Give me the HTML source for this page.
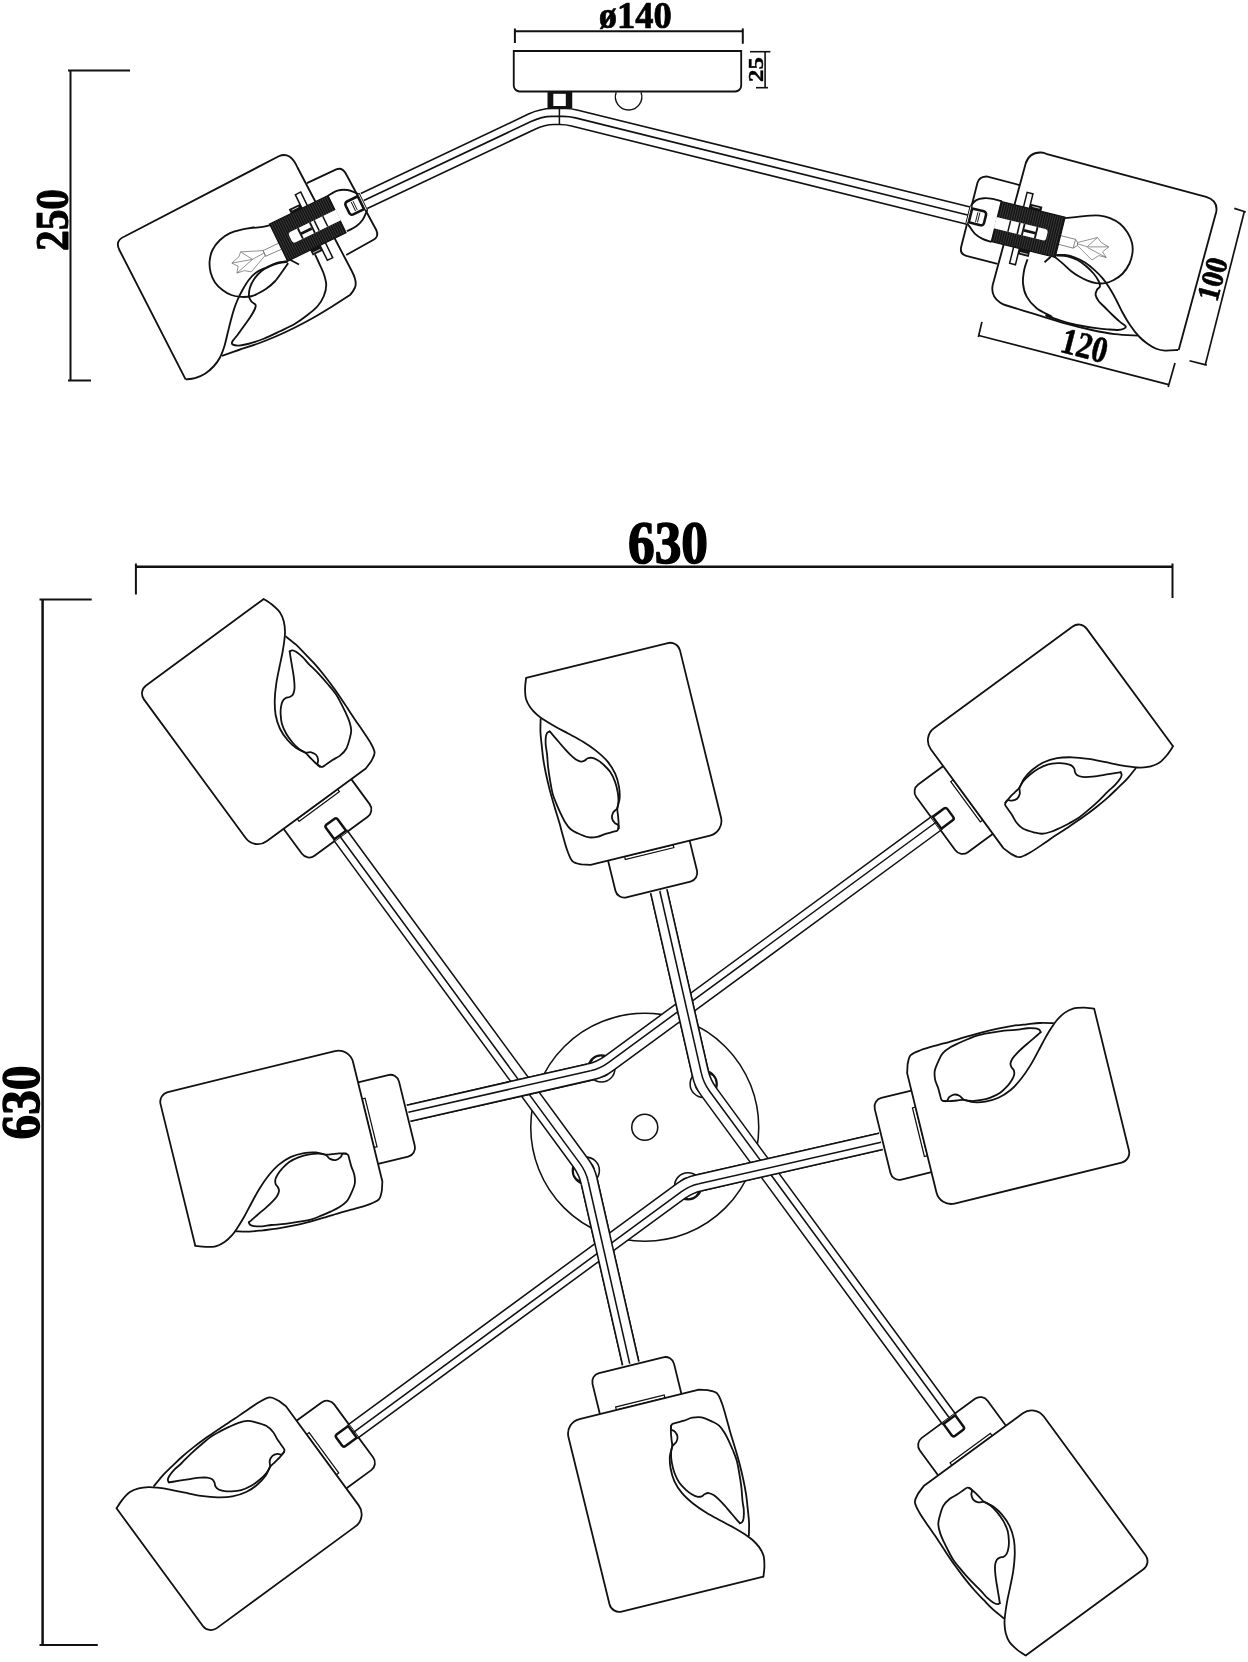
<!DOCTYPE html>
<html><head><meta charset="utf-8"><title>630</title>
<style>
html,body{margin:0;padding:0;background:#fff;overflow:hidden;}
svg{display:block;filter:grayscale(1);}
text{font-family:"Liberation Serif",serif;font-weight:bold;fill:#000;}
</style></head><body>
<svg width="1248" height="1662" viewBox="0 0 1248 1662">
<rect x="0" y="0" width="1248" height="1662" fill="#fff"/>
<circle cx="644.75" cy="1127.3" r="114" fill="none" stroke="#111" stroke-width="1.55"/>
<circle cx="644.75" cy="1127.3" r="13" fill="none" stroke="#111" stroke-width="1.55"/>
<g transform="rotate(0 644.75 1127.3)"><circle cx="585.9" cy="1170.6" r="13.5" fill="#fff" stroke="#111" stroke-width="1.55"/><circle cx="583.7" cy="1171.4" r="10.6" fill="none" stroke="#111" stroke-width="1.55"/></g>
<g transform="rotate(90 644.75 1127.3)"><circle cx="585.9" cy="1170.6" r="13.5" fill="#fff" stroke="#111" stroke-width="1.55"/><circle cx="583.7" cy="1171.4" r="10.6" fill="none" stroke="#111" stroke-width="1.55"/></g>
<g transform="rotate(180 644.75 1127.3)"><circle cx="585.9" cy="1170.6" r="13.5" fill="#fff" stroke="#111" stroke-width="1.55"/><circle cx="583.7" cy="1171.4" r="10.6" fill="none" stroke="#111" stroke-width="1.55"/></g>
<g transform="rotate(270 644.75 1127.3)"><circle cx="585.9" cy="1170.6" r="13.5" fill="#fff" stroke="#111" stroke-width="1.55"/><circle cx="583.7" cy="1171.4" r="10.6" fill="none" stroke="#111" stroke-width="1.55"/></g>
<g transform="rotate(0 644.75 1127.3)"><g transform="matrix(-0.5916 -0.8062 -0.8062 0.5916 341.1 836.25)"><path d="M41 -42L9 -42A9 9 0 0 0 0 -33L0 33A9 9 0 0 0 9 42L41 42" fill="#fff" stroke="#111" stroke-width="1.8"/>
<path d="M36.9 -25L40 -25L40 25L36.9 25Z" fill="none" stroke="#111" stroke-width="1.25"/>
<path d="M237 -78L237 68A10 10 0 0 1 227 78L55 78A15 15 0 0 1 40 63L40 -60L42.63 -68.68C43.48 -69.99 44.98 -74.81 47.7 -76.55C50.43 -78.29 54.08 -78.54 58.97 -79.12C63.86 -79.69 72.22 -79.8 77.06 -79.99C81.91 -80.17 83.29 -80.03 88.04 -80.23C92.8 -80.43 99.81 -80.93 105.58 -81.19C111.34 -81.45 117.12 -81.72 122.62 -81.79C128.13 -81.86 133.45 -81.8 138.62 -81.62C143.79 -81.45 148.82 -81.19 153.65 -80.75C158.49 -80.3 163.04 -79.59 167.62 -78.96C172.19 -78.33 176.66 -77.87 181.12 -76.96C185.57 -76.05 192.12 -74.08 194.32 -73.5Z" fill="#fff" stroke="none"/>
<path d="M237.04 -77.99C235.37 -78.58 230.44 -80.65 227.03 -81.5C223.61 -82.35 219.83 -83.2 216.54 -83.11C213.25 -83.02 210.28 -82.13 207.27 -80.95C204.26 -79.78 201.05 -77.81 198.47 -76.05C195.89 -74.28 194.39 -72.8 191.78 -70.37C189.17 -67.93 186.02 -64.84 182.81 -61.46C179.61 -58.08 176.15 -53.99 172.57 -50.07C168.99 -46.14 165.23 -41.76 161.32 -37.93C157.4 -34.11 153.24 -30.28 149.1 -27.11C144.96 -23.95 140.87 -21.07 136.49 -18.94C132.11 -16.81 127.35 -15.2 122.82 -14.33C118.29 -13.47 113.52 -13.45 109.31 -13.73C105.1 -14 100.99 -14.86 97.58 -15.97C94.18 -17.09 91.49 -19.52 88.88 -20.44C86.26 -21.36 84.22 -21.16 81.89 -21.51C79.56 -21.87 77.1 -22.13 74.9 -22.59C72.71 -23.04 69.75 -23.97 68.72 -24.25L68.72 -24.25C68.42 -24.55 67.27 -25 66.94 -26.05C66.61 -27.09 66.8 -28.53 66.73 -30.55C66.67 -32.57 66.74 -35.46 66.56 -38.18C66.38 -40.89 65.5 -43.85 65.65 -46.81C65.81 -49.77 66.05 -52.79 67.5 -55.92C68.95 -59.05 72.32 -63.08 74.35 -65.6C76.38 -68.11 77.39 -69.48 79.69 -71C81.98 -72.52 85.15 -73.73 88.13 -74.71C91.1 -75.7 94.33 -76.26 97.55 -76.91C100.77 -77.56 104.1 -78.12 107.47 -78.61C110.83 -79.09 113.98 -79.71 117.74 -79.82C121.5 -79.94 125.58 -79.6 130.04 -79.29C134.5 -78.99 139.85 -78.57 144.5 -78C149.16 -77.43 154.15 -76.38 157.98 -75.86C161.81 -75.34 164.59 -75.42 167.49 -74.9C170.39 -74.38 173.51 -73.49 175.39 -72.76C177.27 -72.03 178.09 -71.33 178.77 -70.52C179.44 -69.72 179.33 -68.35 179.44 -67.91Z" fill="#fff" stroke="none"/>
<path d="M237 -78L237 68A10 10 0 0 1 227 78L55 78A15 15 0 0 1 40 63L40 -60L42.63 -68.68C43.48 -69.99 44.98 -74.81 47.7 -76.55C50.43 -78.29 54.08 -78.54 58.97 -79.12C63.86 -79.69 72.22 -79.8 77.06 -79.99C81.91 -80.17 83.29 -80.03 88.04 -80.23C92.8 -80.43 99.81 -80.93 105.58 -81.19C111.34 -81.45 117.12 -81.72 122.62 -81.79C128.13 -81.86 133.45 -81.8 138.62 -81.62C143.79 -81.45 148.82 -81.19 153.65 -80.75C158.49 -80.3 163.04 -79.59 167.62 -78.96C172.19 -78.33 176.66 -77.87 181.12 -76.96C185.57 -76.05 192.12 -74.08 194.32 -73.5" fill="none" stroke="#111" stroke-width="1.8" stroke-linejoin="round"/>
<path d="M237.04 -77.99C235.37 -78.58 230.44 -80.65 227.03 -81.5C223.61 -82.35 219.83 -83.2 216.54 -83.11C213.25 -83.02 210.28 -82.13 207.27 -80.95C204.26 -79.78 201.05 -77.81 198.47 -76.05C195.89 -74.28 194.39 -72.8 191.78 -70.37C189.17 -67.93 186.02 -64.84 182.81 -61.46C179.61 -58.08 176.15 -53.99 172.57 -50.07C168.99 -46.14 165.23 -41.76 161.32 -37.93C157.4 -34.11 153.24 -30.28 149.1 -27.11C144.96 -23.95 140.87 -21.07 136.49 -18.94C132.11 -16.81 127.35 -15.2 122.82 -14.33C118.29 -13.47 113.52 -13.45 109.31 -13.73C105.1 -14 100.99 -14.86 97.58 -15.97C94.18 -17.09 91.49 -19.52 88.88 -20.44C86.26 -21.36 84.22 -21.16 81.89 -21.51C79.56 -21.87 77.1 -22.13 74.9 -22.59C72.71 -23.04 69.75 -23.97 68.72 -24.25" fill="none" stroke="#111" stroke-width="1.8" stroke-linejoin="round" stroke-linecap="round"/>
<path d="M68.72 -24.25C68.42 -24.55 67.27 -25 66.94 -26.05C66.61 -27.09 66.8 -28.53 66.73 -30.55C66.67 -32.57 66.74 -35.46 66.56 -38.18C66.38 -40.89 65.5 -43.85 65.65 -46.81C65.81 -49.77 66.05 -52.79 67.5 -55.92C68.95 -59.05 72.32 -63.08 74.35 -65.6C76.38 -68.11 77.39 -69.48 79.69 -71C81.98 -72.52 85.15 -73.73 88.13 -74.71C91.1 -75.7 94.33 -76.26 97.55 -76.91C100.77 -77.56 104.1 -78.12 107.47 -78.61C110.83 -79.09 113.98 -79.71 117.74 -79.82C121.5 -79.94 125.58 -79.6 130.04 -79.29C134.5 -78.99 139.85 -78.57 144.5 -78C149.16 -77.43 154.15 -76.38 157.98 -75.86C161.81 -75.34 164.59 -75.42 167.49 -74.9C170.39 -74.38 173.51 -73.49 175.39 -72.76C177.27 -72.03 178.09 -71.33 178.77 -70.52C179.44 -69.72 179.33 -68.35 179.44 -67.91" fill="none" stroke="#111" stroke-width="1.8" stroke-linejoin="round" stroke-linecap="round"/>
<path d="M179.44 -67.91C178.82 -67.58 177.78 -66.99 175.7 -65.91C173.62 -64.84 169.84 -62.94 166.93 -61.47C164.02 -59.99 160.9 -58.51 158.25 -57.08C155.59 -55.65 153.09 -54.22 151.02 -52.89C148.96 -51.56 147.25 -50.45 145.86 -49.11C144.47 -47.76 143.22 -46.17 142.7 -44.8C142.18 -43.42 142.48 -42.11 142.74 -40.86C143 -39.6 144.13 -38.62 144.26 -37.26C144.38 -35.91 144.23 -34.26 143.49 -32.73C142.75 -31.2 141.33 -29.57 139.84 -28.07C138.35 -26.56 136.89 -25.26 134.54 -23.71C132.19 -22.17 128.98 -20.02 125.74 -18.8C122.5 -17.59 118.66 -16.84 115.09 -16.42C111.52 -15.99 107.58 -16.08 104.34 -16.28C101.09 -16.48 98.18 -16.93 95.6 -17.62C93.02 -18.31 90.58 -19.11 88.88 -20.44C87.18 -21.78 86.83 -24.36 85.38 -25.63C83.94 -26.89 81.93 -27.87 80.21 -28.03C78.49 -28.19 76.45 -27.34 75.07 -26.59C73.68 -25.83 72.97 -23.88 71.91 -23.49C70.85 -23.1 69.25 -24.13 68.72 -24.25" fill="none" stroke="#111" stroke-width="1.8" stroke-linejoin="round" stroke-linecap="round"/></g></g>
<g transform="rotate(90 644.75 1127.3)"><g transform="matrix(-0.5916 -0.8062 -0.8062 0.5916 341.1 836.25)"><path d="M41 -42L9 -42A9 9 0 0 0 0 -33L0 33A9 9 0 0 0 9 42L41 42" fill="#fff" stroke="#111" stroke-width="1.8"/>
<path d="M36.9 -25L40 -25L40 25L36.9 25Z" fill="none" stroke="#111" stroke-width="1.25"/>
<path d="M237 -78L237 68A10 10 0 0 1 227 78L55 78A15 15 0 0 1 40 63L40 -60L42.63 -68.68C43.48 -69.99 44.98 -74.81 47.7 -76.55C50.43 -78.29 54.08 -78.54 58.97 -79.12C63.86 -79.69 72.22 -79.8 77.06 -79.99C81.91 -80.17 83.29 -80.03 88.04 -80.23C92.8 -80.43 99.81 -80.93 105.58 -81.19C111.34 -81.45 117.12 -81.72 122.62 -81.79C128.13 -81.86 133.45 -81.8 138.62 -81.62C143.79 -81.45 148.82 -81.19 153.65 -80.75C158.49 -80.3 163.04 -79.59 167.62 -78.96C172.19 -78.33 176.66 -77.87 181.12 -76.96C185.57 -76.05 192.12 -74.08 194.32 -73.5Z" fill="#fff" stroke="none"/>
<path d="M237.04 -77.99C235.37 -78.58 230.44 -80.65 227.03 -81.5C223.61 -82.35 219.83 -83.2 216.54 -83.11C213.25 -83.02 210.28 -82.13 207.27 -80.95C204.26 -79.78 201.05 -77.81 198.47 -76.05C195.89 -74.28 194.39 -72.8 191.78 -70.37C189.17 -67.93 186.02 -64.84 182.81 -61.46C179.61 -58.08 176.15 -53.99 172.57 -50.07C168.99 -46.14 165.23 -41.76 161.32 -37.93C157.4 -34.11 153.24 -30.28 149.1 -27.11C144.96 -23.95 140.87 -21.07 136.49 -18.94C132.11 -16.81 127.35 -15.2 122.82 -14.33C118.29 -13.47 113.52 -13.45 109.31 -13.73C105.1 -14 100.99 -14.86 97.58 -15.97C94.18 -17.09 91.49 -19.52 88.88 -20.44C86.26 -21.36 84.22 -21.16 81.89 -21.51C79.56 -21.87 77.1 -22.13 74.9 -22.59C72.71 -23.04 69.75 -23.97 68.72 -24.25L68.72 -24.25C68.42 -24.55 67.27 -25 66.94 -26.05C66.61 -27.09 66.8 -28.53 66.73 -30.55C66.67 -32.57 66.74 -35.46 66.56 -38.18C66.38 -40.89 65.5 -43.85 65.65 -46.81C65.81 -49.77 66.05 -52.79 67.5 -55.92C68.95 -59.05 72.32 -63.08 74.35 -65.6C76.38 -68.11 77.39 -69.48 79.69 -71C81.98 -72.52 85.15 -73.73 88.13 -74.71C91.1 -75.7 94.33 -76.26 97.55 -76.91C100.77 -77.56 104.1 -78.12 107.47 -78.61C110.83 -79.09 113.98 -79.71 117.74 -79.82C121.5 -79.94 125.58 -79.6 130.04 -79.29C134.5 -78.99 139.85 -78.57 144.5 -78C149.16 -77.43 154.15 -76.38 157.98 -75.86C161.81 -75.34 164.59 -75.42 167.49 -74.9C170.39 -74.38 173.51 -73.49 175.39 -72.76C177.27 -72.03 178.09 -71.33 178.77 -70.52C179.44 -69.72 179.33 -68.35 179.44 -67.91Z" fill="#fff" stroke="none"/>
<path d="M237 -78L237 68A10 10 0 0 1 227 78L55 78A15 15 0 0 1 40 63L40 -60L42.63 -68.68C43.48 -69.99 44.98 -74.81 47.7 -76.55C50.43 -78.29 54.08 -78.54 58.97 -79.12C63.86 -79.69 72.22 -79.8 77.06 -79.99C81.91 -80.17 83.29 -80.03 88.04 -80.23C92.8 -80.43 99.81 -80.93 105.58 -81.19C111.34 -81.45 117.12 -81.72 122.62 -81.79C128.13 -81.86 133.45 -81.8 138.62 -81.62C143.79 -81.45 148.82 -81.19 153.65 -80.75C158.49 -80.3 163.04 -79.59 167.62 -78.96C172.19 -78.33 176.66 -77.87 181.12 -76.96C185.57 -76.05 192.12 -74.08 194.32 -73.5" fill="none" stroke="#111" stroke-width="1.8" stroke-linejoin="round"/>
<path d="M237.04 -77.99C235.37 -78.58 230.44 -80.65 227.03 -81.5C223.61 -82.35 219.83 -83.2 216.54 -83.11C213.25 -83.02 210.28 -82.13 207.27 -80.95C204.26 -79.78 201.05 -77.81 198.47 -76.05C195.89 -74.28 194.39 -72.8 191.78 -70.37C189.17 -67.93 186.02 -64.84 182.81 -61.46C179.61 -58.08 176.15 -53.99 172.57 -50.07C168.99 -46.14 165.23 -41.76 161.32 -37.93C157.4 -34.11 153.24 -30.28 149.1 -27.11C144.96 -23.95 140.87 -21.07 136.49 -18.94C132.11 -16.81 127.35 -15.2 122.82 -14.33C118.29 -13.47 113.52 -13.45 109.31 -13.73C105.1 -14 100.99 -14.86 97.58 -15.97C94.18 -17.09 91.49 -19.52 88.88 -20.44C86.26 -21.36 84.22 -21.16 81.89 -21.51C79.56 -21.87 77.1 -22.13 74.9 -22.59C72.71 -23.04 69.75 -23.97 68.72 -24.25" fill="none" stroke="#111" stroke-width="1.8" stroke-linejoin="round" stroke-linecap="round"/>
<path d="M68.72 -24.25C68.42 -24.55 67.27 -25 66.94 -26.05C66.61 -27.09 66.8 -28.53 66.73 -30.55C66.67 -32.57 66.74 -35.46 66.56 -38.18C66.38 -40.89 65.5 -43.85 65.65 -46.81C65.81 -49.77 66.05 -52.79 67.5 -55.92C68.95 -59.05 72.32 -63.08 74.35 -65.6C76.38 -68.11 77.39 -69.48 79.69 -71C81.98 -72.52 85.15 -73.73 88.13 -74.71C91.1 -75.7 94.33 -76.26 97.55 -76.91C100.77 -77.56 104.1 -78.12 107.47 -78.61C110.83 -79.09 113.98 -79.71 117.74 -79.82C121.5 -79.94 125.58 -79.6 130.04 -79.29C134.5 -78.99 139.85 -78.57 144.5 -78C149.16 -77.43 154.15 -76.38 157.98 -75.86C161.81 -75.34 164.59 -75.42 167.49 -74.9C170.39 -74.38 173.51 -73.49 175.39 -72.76C177.27 -72.03 178.09 -71.33 178.77 -70.52C179.44 -69.72 179.33 -68.35 179.44 -67.91" fill="none" stroke="#111" stroke-width="1.8" stroke-linejoin="round" stroke-linecap="round"/>
<path d="M179.44 -67.91C178.82 -67.58 177.78 -66.99 175.7 -65.91C173.62 -64.84 169.84 -62.94 166.93 -61.47C164.02 -59.99 160.9 -58.51 158.25 -57.08C155.59 -55.65 153.09 -54.22 151.02 -52.89C148.96 -51.56 147.25 -50.45 145.86 -49.11C144.47 -47.76 143.22 -46.17 142.7 -44.8C142.18 -43.42 142.48 -42.11 142.74 -40.86C143 -39.6 144.13 -38.62 144.26 -37.26C144.38 -35.91 144.23 -34.26 143.49 -32.73C142.75 -31.2 141.33 -29.57 139.84 -28.07C138.35 -26.56 136.89 -25.26 134.54 -23.71C132.19 -22.17 128.98 -20.02 125.74 -18.8C122.5 -17.59 118.66 -16.84 115.09 -16.42C111.52 -15.99 107.58 -16.08 104.34 -16.28C101.09 -16.48 98.18 -16.93 95.6 -17.62C93.02 -18.31 90.58 -19.11 88.88 -20.44C87.18 -21.78 86.83 -24.36 85.38 -25.63C83.94 -26.89 81.93 -27.87 80.21 -28.03C78.49 -28.19 76.45 -27.34 75.07 -26.59C73.68 -25.83 72.97 -23.88 71.91 -23.49C70.85 -23.1 69.25 -24.13 68.72 -24.25" fill="none" stroke="#111" stroke-width="1.8" stroke-linejoin="round" stroke-linecap="round"/></g></g>
<g transform="rotate(180 644.75 1127.3)"><g transform="matrix(-0.5916 -0.8062 -0.8062 0.5916 341.1 836.25)"><path d="M41 -42L9 -42A9 9 0 0 0 0 -33L0 33A9 9 0 0 0 9 42L41 42" fill="#fff" stroke="#111" stroke-width="1.8"/>
<path d="M36.9 -25L40 -25L40 25L36.9 25Z" fill="none" stroke="#111" stroke-width="1.25"/>
<path d="M237 -78L237 68A10 10 0 0 1 227 78L55 78A15 15 0 0 1 40 63L40 -60L42.63 -68.68C43.48 -69.99 44.98 -74.81 47.7 -76.55C50.43 -78.29 54.08 -78.54 58.97 -79.12C63.86 -79.69 72.22 -79.8 77.06 -79.99C81.91 -80.17 83.29 -80.03 88.04 -80.23C92.8 -80.43 99.81 -80.93 105.58 -81.19C111.34 -81.45 117.12 -81.72 122.62 -81.79C128.13 -81.86 133.45 -81.8 138.62 -81.62C143.79 -81.45 148.82 -81.19 153.65 -80.75C158.49 -80.3 163.04 -79.59 167.62 -78.96C172.19 -78.33 176.66 -77.87 181.12 -76.96C185.57 -76.05 192.12 -74.08 194.32 -73.5Z" fill="#fff" stroke="none"/>
<path d="M237.04 -77.99C235.37 -78.58 230.44 -80.65 227.03 -81.5C223.61 -82.35 219.83 -83.2 216.54 -83.11C213.25 -83.02 210.28 -82.13 207.27 -80.95C204.26 -79.78 201.05 -77.81 198.47 -76.05C195.89 -74.28 194.39 -72.8 191.78 -70.37C189.17 -67.93 186.02 -64.84 182.81 -61.46C179.61 -58.08 176.15 -53.99 172.57 -50.07C168.99 -46.14 165.23 -41.76 161.32 -37.93C157.4 -34.11 153.24 -30.28 149.1 -27.11C144.96 -23.95 140.87 -21.07 136.49 -18.94C132.11 -16.81 127.35 -15.2 122.82 -14.33C118.29 -13.47 113.52 -13.45 109.31 -13.73C105.1 -14 100.99 -14.86 97.58 -15.97C94.18 -17.09 91.49 -19.52 88.88 -20.44C86.26 -21.36 84.22 -21.16 81.89 -21.51C79.56 -21.87 77.1 -22.13 74.9 -22.59C72.71 -23.04 69.75 -23.97 68.72 -24.25L68.72 -24.25C68.42 -24.55 67.27 -25 66.94 -26.05C66.61 -27.09 66.8 -28.53 66.73 -30.55C66.67 -32.57 66.74 -35.46 66.56 -38.18C66.38 -40.89 65.5 -43.85 65.65 -46.81C65.81 -49.77 66.05 -52.79 67.5 -55.92C68.95 -59.05 72.32 -63.08 74.35 -65.6C76.38 -68.11 77.39 -69.48 79.69 -71C81.98 -72.52 85.15 -73.73 88.13 -74.71C91.1 -75.7 94.33 -76.26 97.55 -76.91C100.77 -77.56 104.1 -78.12 107.47 -78.61C110.83 -79.09 113.98 -79.71 117.74 -79.82C121.5 -79.94 125.58 -79.6 130.04 -79.29C134.5 -78.99 139.85 -78.57 144.5 -78C149.16 -77.43 154.15 -76.38 157.98 -75.86C161.81 -75.34 164.59 -75.42 167.49 -74.9C170.39 -74.38 173.51 -73.49 175.39 -72.76C177.27 -72.03 178.09 -71.33 178.77 -70.52C179.44 -69.72 179.33 -68.35 179.44 -67.91Z" fill="#fff" stroke="none"/>
<path d="M237 -78L237 68A10 10 0 0 1 227 78L55 78A15 15 0 0 1 40 63L40 -60L42.63 -68.68C43.48 -69.99 44.98 -74.81 47.7 -76.55C50.43 -78.29 54.08 -78.54 58.97 -79.12C63.86 -79.69 72.22 -79.8 77.06 -79.99C81.91 -80.17 83.29 -80.03 88.04 -80.23C92.8 -80.43 99.81 -80.93 105.58 -81.19C111.34 -81.45 117.12 -81.72 122.62 -81.79C128.13 -81.86 133.45 -81.8 138.62 -81.62C143.79 -81.45 148.82 -81.19 153.65 -80.75C158.49 -80.3 163.04 -79.59 167.62 -78.96C172.19 -78.33 176.66 -77.87 181.12 -76.96C185.57 -76.05 192.12 -74.08 194.32 -73.5" fill="none" stroke="#111" stroke-width="1.8" stroke-linejoin="round"/>
<path d="M237.04 -77.99C235.37 -78.58 230.44 -80.65 227.03 -81.5C223.61 -82.35 219.83 -83.2 216.54 -83.11C213.25 -83.02 210.28 -82.13 207.27 -80.95C204.26 -79.78 201.05 -77.81 198.47 -76.05C195.89 -74.28 194.39 -72.8 191.78 -70.37C189.17 -67.93 186.02 -64.84 182.81 -61.46C179.61 -58.08 176.15 -53.99 172.57 -50.07C168.99 -46.14 165.23 -41.76 161.32 -37.93C157.4 -34.11 153.24 -30.28 149.1 -27.11C144.96 -23.95 140.87 -21.07 136.49 -18.94C132.11 -16.81 127.35 -15.2 122.82 -14.33C118.29 -13.47 113.52 -13.45 109.31 -13.73C105.1 -14 100.99 -14.86 97.58 -15.97C94.18 -17.09 91.49 -19.52 88.88 -20.44C86.26 -21.36 84.22 -21.16 81.89 -21.51C79.56 -21.87 77.1 -22.13 74.9 -22.59C72.71 -23.04 69.75 -23.97 68.72 -24.25" fill="none" stroke="#111" stroke-width="1.8" stroke-linejoin="round" stroke-linecap="round"/>
<path d="M68.72 -24.25C68.42 -24.55 67.27 -25 66.94 -26.05C66.61 -27.09 66.8 -28.53 66.73 -30.55C66.67 -32.57 66.74 -35.46 66.56 -38.18C66.38 -40.89 65.5 -43.85 65.65 -46.81C65.81 -49.77 66.05 -52.79 67.5 -55.92C68.95 -59.05 72.32 -63.08 74.35 -65.6C76.38 -68.11 77.39 -69.48 79.69 -71C81.98 -72.52 85.15 -73.73 88.13 -74.71C91.1 -75.7 94.33 -76.26 97.55 -76.91C100.77 -77.56 104.1 -78.12 107.47 -78.61C110.83 -79.09 113.98 -79.71 117.74 -79.82C121.5 -79.94 125.58 -79.6 130.04 -79.29C134.5 -78.99 139.85 -78.57 144.5 -78C149.16 -77.43 154.15 -76.38 157.98 -75.86C161.81 -75.34 164.59 -75.42 167.49 -74.9C170.39 -74.38 173.51 -73.49 175.39 -72.76C177.27 -72.03 178.09 -71.33 178.77 -70.52C179.44 -69.72 179.33 -68.35 179.44 -67.91" fill="none" stroke="#111" stroke-width="1.8" stroke-linejoin="round" stroke-linecap="round"/>
<path d="M179.44 -67.91C178.82 -67.58 177.78 -66.99 175.7 -65.91C173.62 -64.84 169.84 -62.94 166.93 -61.47C164.02 -59.99 160.9 -58.51 158.25 -57.08C155.59 -55.65 153.09 -54.22 151.02 -52.89C148.96 -51.56 147.25 -50.45 145.86 -49.11C144.47 -47.76 143.22 -46.17 142.7 -44.8C142.18 -43.42 142.48 -42.11 142.74 -40.86C143 -39.6 144.13 -38.62 144.26 -37.26C144.38 -35.91 144.23 -34.26 143.49 -32.73C142.75 -31.2 141.33 -29.57 139.84 -28.07C138.35 -26.56 136.89 -25.26 134.54 -23.71C132.19 -22.17 128.98 -20.02 125.74 -18.8C122.5 -17.59 118.66 -16.84 115.09 -16.42C111.52 -15.99 107.58 -16.08 104.34 -16.28C101.09 -16.48 98.18 -16.93 95.6 -17.62C93.02 -18.31 90.58 -19.11 88.88 -20.44C87.18 -21.78 86.83 -24.36 85.38 -25.63C83.94 -26.89 81.93 -27.87 80.21 -28.03C78.49 -28.19 76.45 -27.34 75.07 -26.59C73.68 -25.83 72.97 -23.88 71.91 -23.49C70.85 -23.1 69.25 -24.13 68.72 -24.25" fill="none" stroke="#111" stroke-width="1.8" stroke-linejoin="round" stroke-linecap="round"/></g></g>
<g transform="rotate(270 644.75 1127.3)"><g transform="matrix(-0.5916 -0.8062 -0.8062 0.5916 341.1 836.25)"><path d="M41 -42L9 -42A9 9 0 0 0 0 -33L0 33A9 9 0 0 0 9 42L41 42" fill="#fff" stroke="#111" stroke-width="1.8"/>
<path d="M36.9 -25L40 -25L40 25L36.9 25Z" fill="none" stroke="#111" stroke-width="1.25"/>
<path d="M237 -78L237 68A10 10 0 0 1 227 78L55 78A15 15 0 0 1 40 63L40 -60L42.63 -68.68C43.48 -69.99 44.98 -74.81 47.7 -76.55C50.43 -78.29 54.08 -78.54 58.97 -79.12C63.86 -79.69 72.22 -79.8 77.06 -79.99C81.91 -80.17 83.29 -80.03 88.04 -80.23C92.8 -80.43 99.81 -80.93 105.58 -81.19C111.34 -81.45 117.12 -81.72 122.62 -81.79C128.13 -81.86 133.45 -81.8 138.62 -81.62C143.79 -81.45 148.82 -81.19 153.65 -80.75C158.49 -80.3 163.04 -79.59 167.62 -78.96C172.19 -78.33 176.66 -77.87 181.12 -76.96C185.57 -76.05 192.12 -74.08 194.32 -73.5Z" fill="#fff" stroke="none"/>
<path d="M237.04 -77.99C235.37 -78.58 230.44 -80.65 227.03 -81.5C223.61 -82.35 219.83 -83.2 216.54 -83.11C213.25 -83.02 210.28 -82.13 207.27 -80.95C204.26 -79.78 201.05 -77.81 198.47 -76.05C195.89 -74.28 194.39 -72.8 191.78 -70.37C189.17 -67.93 186.02 -64.84 182.81 -61.46C179.61 -58.08 176.15 -53.99 172.57 -50.07C168.99 -46.14 165.23 -41.76 161.32 -37.93C157.4 -34.11 153.24 -30.28 149.1 -27.11C144.96 -23.95 140.87 -21.07 136.49 -18.94C132.11 -16.81 127.35 -15.2 122.82 -14.33C118.29 -13.47 113.52 -13.45 109.31 -13.73C105.1 -14 100.99 -14.86 97.58 -15.97C94.18 -17.09 91.49 -19.52 88.88 -20.44C86.26 -21.36 84.22 -21.16 81.89 -21.51C79.56 -21.87 77.1 -22.13 74.9 -22.59C72.71 -23.04 69.75 -23.97 68.72 -24.25L68.72 -24.25C68.42 -24.55 67.27 -25 66.94 -26.05C66.61 -27.09 66.8 -28.53 66.73 -30.55C66.67 -32.57 66.74 -35.46 66.56 -38.18C66.38 -40.89 65.5 -43.85 65.65 -46.81C65.81 -49.77 66.05 -52.79 67.5 -55.92C68.95 -59.05 72.32 -63.08 74.35 -65.6C76.38 -68.11 77.39 -69.48 79.69 -71C81.98 -72.52 85.15 -73.73 88.13 -74.71C91.1 -75.7 94.33 -76.26 97.55 -76.91C100.77 -77.56 104.1 -78.12 107.47 -78.61C110.83 -79.09 113.98 -79.71 117.74 -79.82C121.5 -79.94 125.58 -79.6 130.04 -79.29C134.5 -78.99 139.85 -78.57 144.5 -78C149.16 -77.43 154.15 -76.38 157.98 -75.86C161.81 -75.34 164.59 -75.42 167.49 -74.9C170.39 -74.38 173.51 -73.49 175.39 -72.76C177.27 -72.03 178.09 -71.33 178.77 -70.52C179.44 -69.72 179.33 -68.35 179.44 -67.91Z" fill="#fff" stroke="none"/>
<path d="M237 -78L237 68A10 10 0 0 1 227 78L55 78A15 15 0 0 1 40 63L40 -60L42.63 -68.68C43.48 -69.99 44.98 -74.81 47.7 -76.55C50.43 -78.29 54.08 -78.54 58.97 -79.12C63.86 -79.69 72.22 -79.8 77.06 -79.99C81.91 -80.17 83.29 -80.03 88.04 -80.23C92.8 -80.43 99.81 -80.93 105.58 -81.19C111.34 -81.45 117.12 -81.72 122.62 -81.79C128.13 -81.86 133.45 -81.8 138.62 -81.62C143.79 -81.45 148.82 -81.19 153.65 -80.75C158.49 -80.3 163.04 -79.59 167.62 -78.96C172.19 -78.33 176.66 -77.87 181.12 -76.96C185.57 -76.05 192.12 -74.08 194.32 -73.5" fill="none" stroke="#111" stroke-width="1.8" stroke-linejoin="round"/>
<path d="M237.04 -77.99C235.37 -78.58 230.44 -80.65 227.03 -81.5C223.61 -82.35 219.83 -83.2 216.54 -83.11C213.25 -83.02 210.28 -82.13 207.27 -80.95C204.26 -79.78 201.05 -77.81 198.47 -76.05C195.89 -74.28 194.39 -72.8 191.78 -70.37C189.17 -67.93 186.02 -64.84 182.81 -61.46C179.61 -58.08 176.15 -53.99 172.57 -50.07C168.99 -46.14 165.23 -41.76 161.32 -37.93C157.4 -34.11 153.24 -30.28 149.1 -27.11C144.96 -23.95 140.87 -21.07 136.49 -18.94C132.11 -16.81 127.35 -15.2 122.82 -14.33C118.29 -13.47 113.52 -13.45 109.31 -13.73C105.1 -14 100.99 -14.86 97.58 -15.97C94.18 -17.09 91.49 -19.52 88.88 -20.44C86.26 -21.36 84.22 -21.16 81.89 -21.51C79.56 -21.87 77.1 -22.13 74.9 -22.59C72.71 -23.04 69.75 -23.97 68.72 -24.25" fill="none" stroke="#111" stroke-width="1.8" stroke-linejoin="round" stroke-linecap="round"/>
<path d="M68.72 -24.25C68.42 -24.55 67.27 -25 66.94 -26.05C66.61 -27.09 66.8 -28.53 66.73 -30.55C66.67 -32.57 66.74 -35.46 66.56 -38.18C66.38 -40.89 65.5 -43.85 65.65 -46.81C65.81 -49.77 66.05 -52.79 67.5 -55.92C68.95 -59.05 72.32 -63.08 74.35 -65.6C76.38 -68.11 77.39 -69.48 79.69 -71C81.98 -72.52 85.15 -73.73 88.13 -74.71C91.1 -75.7 94.33 -76.26 97.55 -76.91C100.77 -77.56 104.1 -78.12 107.47 -78.61C110.83 -79.09 113.98 -79.71 117.74 -79.82C121.5 -79.94 125.58 -79.6 130.04 -79.29C134.5 -78.99 139.85 -78.57 144.5 -78C149.16 -77.43 154.15 -76.38 157.98 -75.86C161.81 -75.34 164.59 -75.42 167.49 -74.9C170.39 -74.38 173.51 -73.49 175.39 -72.76C177.27 -72.03 178.09 -71.33 178.77 -70.52C179.44 -69.72 179.33 -68.35 179.44 -67.91" fill="none" stroke="#111" stroke-width="1.8" stroke-linejoin="round" stroke-linecap="round"/>
<path d="M179.44 -67.91C178.82 -67.58 177.78 -66.99 175.7 -65.91C173.62 -64.84 169.84 -62.94 166.93 -61.47C164.02 -59.99 160.9 -58.51 158.25 -57.08C155.59 -55.65 153.09 -54.22 151.02 -52.89C148.96 -51.56 147.25 -50.45 145.86 -49.11C144.47 -47.76 143.22 -46.17 142.7 -44.8C142.18 -43.42 142.48 -42.11 142.74 -40.86C143 -39.6 144.13 -38.62 144.26 -37.26C144.38 -35.91 144.23 -34.26 143.49 -32.73C142.75 -31.2 141.33 -29.57 139.84 -28.07C138.35 -26.56 136.89 -25.26 134.54 -23.71C132.19 -22.17 128.98 -20.02 125.74 -18.8C122.5 -17.59 118.66 -16.84 115.09 -16.42C111.52 -15.99 107.58 -16.08 104.34 -16.28C101.09 -16.48 98.18 -16.93 95.6 -17.62C93.02 -18.31 90.58 -19.11 88.88 -20.44C87.18 -21.78 86.83 -24.36 85.38 -25.63C83.94 -26.89 81.93 -27.87 80.21 -28.03C78.49 -28.19 76.45 -27.34 75.07 -26.59C73.68 -25.83 72.97 -23.88 71.91 -23.49C70.85 -23.1 69.25 -24.13 68.72 -24.25" fill="none" stroke="#111" stroke-width="1.8" stroke-linejoin="round" stroke-linecap="round"/></g></g>
<g transform="rotate(0 644.75 1127.3)"><path d="M333.82 840.35L573.27 1166.76Q579.19 1174.82 581.41 1184.57L582.08 1187.5L597.5 1180.45L596.83 1177.53Q594.61 1167.78 588.69 1159.72L347.2 830.53Z" fill="#fff"/><path d="M333.82 840.35L573.27 1166.76Q579.19 1174.82 581.41 1184.57L622.59 1365.22" fill="none" stroke="#111" stroke-width="1.55"/><path d="M339.7 836.04L580.06 1163.66Q585.97 1171.72 588.19 1181.47L629.7 1363.6" fill="none" stroke="#111" stroke-width="1.55"/><path d="M347.2 830.53L588.69 1159.72Q594.61 1167.78 596.83 1177.53L638.77 1361.53" fill="none" stroke="#111" stroke-width="1.55"/></g>
<g transform="rotate(90 644.75 1127.3)"><path d="M333.82 840.35L573.27 1166.76Q579.19 1174.82 581.41 1184.57L582.08 1187.5L597.5 1180.45L596.83 1177.53Q594.61 1167.78 588.69 1159.72L347.2 830.53Z" fill="#fff"/><path d="M333.82 840.35L573.27 1166.76Q579.19 1174.82 581.41 1184.57L622.59 1365.22" fill="none" stroke="#111" stroke-width="1.55"/><path d="M339.7 836.04L580.06 1163.66Q585.97 1171.72 588.19 1181.47L629.7 1363.6" fill="none" stroke="#111" stroke-width="1.55"/><path d="M347.2 830.53L588.69 1159.72Q594.61 1167.78 596.83 1177.53L638.77 1361.53" fill="none" stroke="#111" stroke-width="1.55"/></g>
<g transform="rotate(180 644.75 1127.3)"><path d="M333.82 840.35L573.27 1166.76Q579.19 1174.82 581.41 1184.57L582.08 1187.5L597.5 1180.45L596.83 1177.53Q594.61 1167.78 588.69 1159.72L347.2 830.53Z" fill="#fff"/><path d="M333.82 840.35L573.27 1166.76Q579.19 1174.82 581.41 1184.57L622.59 1365.22" fill="none" stroke="#111" stroke-width="1.55"/><path d="M339.7 836.04L580.06 1163.66Q585.97 1171.72 588.19 1181.47L629.7 1363.6" fill="none" stroke="#111" stroke-width="1.55"/><path d="M347.2 830.53L588.69 1159.72Q594.61 1167.78 596.83 1177.53L638.77 1361.53" fill="none" stroke="#111" stroke-width="1.55"/></g>
<g transform="rotate(270 644.75 1127.3)"><path d="M333.82 840.35L573.27 1166.76Q579.19 1174.82 581.41 1184.57L582.08 1187.5L597.5 1180.45L596.83 1177.53Q594.61 1167.78 588.69 1159.72L347.2 830.53Z" fill="#fff"/><path d="M333.82 840.35L573.27 1166.76Q579.19 1174.82 581.41 1184.57L622.59 1365.22" fill="none" stroke="#111" stroke-width="1.55"/><path d="M339.7 836.04L580.06 1163.66Q585.97 1171.72 588.19 1181.47L629.7 1363.6" fill="none" stroke="#111" stroke-width="1.55"/><path d="M347.2 830.53L588.69 1159.72Q594.61 1167.78 596.83 1177.53L638.77 1361.53" fill="none" stroke="#111" stroke-width="1.55"/></g>
<g transform="rotate(0 644.75 1127.3)"><path d="M581.41 1184.57L622.59 1365.22L638.77 1361.53L596.83 1177.53Z" fill="#fff"/><path d="M581.41 1184.57L622.59 1365.22" fill="none" stroke="#111" stroke-width="1.55"/><path d="M588.19 1181.47L629.7 1363.6" fill="none" stroke="#111" stroke-width="1.55"/><path d="M596.83 1177.53L638.77 1361.53" fill="none" stroke="#111" stroke-width="1.55"/></g>
<g transform="rotate(90 644.75 1127.3)"><path d="M581.41 1184.57L622.59 1365.22L638.77 1361.53L596.83 1177.53Z" fill="#fff"/><path d="M581.41 1184.57L622.59 1365.22" fill="none" stroke="#111" stroke-width="1.55"/><path d="M588.19 1181.47L629.7 1363.6" fill="none" stroke="#111" stroke-width="1.55"/><path d="M596.83 1177.53L638.77 1361.53" fill="none" stroke="#111" stroke-width="1.55"/></g>
<g transform="rotate(180 644.75 1127.3)"><path d="M581.41 1184.57L622.59 1365.22L638.77 1361.53L596.83 1177.53Z" fill="#fff"/><path d="M581.41 1184.57L622.59 1365.22" fill="none" stroke="#111" stroke-width="1.55"/><path d="M588.19 1181.47L629.7 1363.6" fill="none" stroke="#111" stroke-width="1.55"/><path d="M596.83 1177.53L638.77 1361.53" fill="none" stroke="#111" stroke-width="1.55"/></g>
<g transform="rotate(270 644.75 1127.3)"><path d="M581.41 1184.57L622.59 1365.22L638.77 1361.53L596.83 1177.53Z" fill="#fff"/><path d="M581.41 1184.57L622.59 1365.22" fill="none" stroke="#111" stroke-width="1.55"/><path d="M588.19 1181.47L629.7 1363.6" fill="none" stroke="#111" stroke-width="1.55"/><path d="M596.83 1177.53L638.77 1361.53" fill="none" stroke="#111" stroke-width="1.55"/></g>
<g transform="rotate(0 644.75 1127.3)"><g transform="matrix(-0.5916 -0.8062 -0.8062 0.5916 341.1 836.25)"><path d="M1.5 -7.3L15.5 -7.3A2.5 2.5 0 0 1 18 -4.8L18 4.8A2.5 2.5 0 0 1 15.5 7.3L1.5 7.3L1.5 -7.3Z" fill="#fff" stroke="#111" stroke-width="2.5" stroke-linejoin="round"/>
<path d="M1.6 -8.8L1.6 8.8M-0.4 -8.8L-0.4 8.8" fill="none" stroke="#111" stroke-width="0.9"/></g></g>
<g transform="rotate(90 644.75 1127.3)"><g transform="matrix(-0.5916 -0.8062 -0.8062 0.5916 341.1 836.25)"><path d="M1.5 -7.3L15.5 -7.3A2.5 2.5 0 0 1 18 -4.8L18 4.8A2.5 2.5 0 0 1 15.5 7.3L1.5 7.3L1.5 -7.3Z" fill="#fff" stroke="#111" stroke-width="2.5" stroke-linejoin="round"/>
<path d="M1.6 -8.8L1.6 8.8M-0.4 -8.8L-0.4 8.8" fill="none" stroke="#111" stroke-width="0.9"/></g></g>
<g transform="rotate(180 644.75 1127.3)"><g transform="matrix(-0.5916 -0.8062 -0.8062 0.5916 341.1 836.25)"><path d="M1.5 -7.3L15.5 -7.3A2.5 2.5 0 0 1 18 -4.8L18 4.8A2.5 2.5 0 0 1 15.5 7.3L1.5 7.3L1.5 -7.3Z" fill="#fff" stroke="#111" stroke-width="2.5" stroke-linejoin="round"/>
<path d="M1.6 -8.8L1.6 8.8M-0.4 -8.8L-0.4 8.8" fill="none" stroke="#111" stroke-width="0.9"/></g></g>
<g transform="rotate(270 644.75 1127.3)"><g transform="matrix(-0.5916 -0.8062 -0.8062 0.5916 341.1 836.25)"><path d="M1.5 -7.3L15.5 -7.3A2.5 2.5 0 0 1 18 -4.8L18 4.8A2.5 2.5 0 0 1 15.5 7.3L1.5 7.3L1.5 -7.3Z" fill="#fff" stroke="#111" stroke-width="2.5" stroke-linejoin="round"/>
<path d="M1.6 -8.8L1.6 8.8M-0.4 -8.8L-0.4 8.8" fill="none" stroke="#111" stroke-width="0.9"/></g></g>
<g transform="rotate(0 644.75 1127.3)"><g transform="matrix(0.2385 0.9711 -0.9711 0.2385 631.12 1365.15)"><path d="M41 -42L9 -42A9 9 0 0 0 0 -33L0 33A9 9 0 0 0 9 42L41 42" fill="#fff" stroke="#111" stroke-width="1.8"/>
<path d="M36.9 -25L40 -25L40 25L36.9 25Z" fill="none" stroke="#111" stroke-width="1.25"/>
<path d="M237 -78L237 68A10 10 0 0 1 227 78L55 78A15 15 0 0 1 40 63L40 -60L42.63 -68.68C43.48 -69.99 44.98 -74.81 47.7 -76.55C50.43 -78.29 54.08 -78.54 58.97 -79.12C63.86 -79.69 72.22 -79.8 77.06 -79.99C81.91 -80.17 83.29 -80.03 88.04 -80.23C92.8 -80.43 99.81 -80.93 105.58 -81.19C111.34 -81.45 117.12 -81.72 122.62 -81.79C128.13 -81.86 133.45 -81.8 138.62 -81.62C143.79 -81.45 148.82 -81.19 153.65 -80.75C158.49 -80.3 163.04 -79.59 167.62 -78.96C172.19 -78.33 176.66 -77.87 181.12 -76.96C185.57 -76.05 192.12 -74.08 194.32 -73.5Z" fill="#fff" stroke="none"/>
<path d="M237.04 -77.99C235.37 -78.58 230.44 -80.65 227.03 -81.5C223.61 -82.35 219.83 -83.2 216.54 -83.11C213.25 -83.02 210.28 -82.13 207.27 -80.95C204.26 -79.78 201.05 -77.81 198.47 -76.05C195.89 -74.28 194.39 -72.8 191.78 -70.37C189.17 -67.93 186.02 -64.84 182.81 -61.46C179.61 -58.08 176.15 -53.99 172.57 -50.07C168.99 -46.14 165.23 -41.76 161.32 -37.93C157.4 -34.11 153.24 -30.28 149.1 -27.11C144.96 -23.95 140.87 -21.07 136.49 -18.94C132.11 -16.81 127.35 -15.2 122.82 -14.33C118.29 -13.47 113.52 -13.45 109.31 -13.73C105.1 -14 100.99 -14.86 97.58 -15.97C94.18 -17.09 91.49 -19.52 88.88 -20.44C86.26 -21.36 84.22 -21.16 81.89 -21.51C79.56 -21.87 77.1 -22.13 74.9 -22.59C72.71 -23.04 69.75 -23.97 68.72 -24.25L68.72 -24.25C68.42 -24.55 67.27 -25 66.94 -26.05C66.61 -27.09 66.8 -28.53 66.73 -30.55C66.67 -32.57 66.74 -35.46 66.56 -38.18C66.38 -40.89 65.5 -43.85 65.65 -46.81C65.81 -49.77 66.05 -52.79 67.5 -55.92C68.95 -59.05 72.32 -63.08 74.35 -65.6C76.38 -68.11 77.39 -69.48 79.69 -71C81.98 -72.52 85.15 -73.73 88.13 -74.71C91.1 -75.7 94.33 -76.26 97.55 -76.91C100.77 -77.56 104.1 -78.12 107.47 -78.61C110.83 -79.09 113.98 -79.71 117.74 -79.82C121.5 -79.94 125.58 -79.6 130.04 -79.29C134.5 -78.99 139.85 -78.57 144.5 -78C149.16 -77.43 154.15 -76.38 157.98 -75.86C161.81 -75.34 164.59 -75.42 167.49 -74.9C170.39 -74.38 173.51 -73.49 175.39 -72.76C177.27 -72.03 178.09 -71.33 178.77 -70.52C179.44 -69.72 179.33 -68.35 179.44 -67.91Z" fill="#fff" stroke="none"/>
<path d="M237 -78L237 68A10 10 0 0 1 227 78L55 78A15 15 0 0 1 40 63L40 -60L42.63 -68.68C43.48 -69.99 44.98 -74.81 47.7 -76.55C50.43 -78.29 54.08 -78.54 58.97 -79.12C63.86 -79.69 72.22 -79.8 77.06 -79.99C81.91 -80.17 83.29 -80.03 88.04 -80.23C92.8 -80.43 99.81 -80.93 105.58 -81.19C111.34 -81.45 117.12 -81.72 122.62 -81.79C128.13 -81.86 133.45 -81.8 138.62 -81.62C143.79 -81.45 148.82 -81.19 153.65 -80.75C158.49 -80.3 163.04 -79.59 167.62 -78.96C172.19 -78.33 176.66 -77.87 181.12 -76.96C185.57 -76.05 192.12 -74.08 194.32 -73.5" fill="none" stroke="#111" stroke-width="1.8" stroke-linejoin="round"/>
<path d="M237.04 -77.99C235.37 -78.58 230.44 -80.65 227.03 -81.5C223.61 -82.35 219.83 -83.2 216.54 -83.11C213.25 -83.02 210.28 -82.13 207.27 -80.95C204.26 -79.78 201.05 -77.81 198.47 -76.05C195.89 -74.28 194.39 -72.8 191.78 -70.37C189.17 -67.93 186.02 -64.84 182.81 -61.46C179.61 -58.08 176.15 -53.99 172.57 -50.07C168.99 -46.14 165.23 -41.76 161.32 -37.93C157.4 -34.11 153.24 -30.28 149.1 -27.11C144.96 -23.95 140.87 -21.07 136.49 -18.94C132.11 -16.81 127.35 -15.2 122.82 -14.33C118.29 -13.47 113.52 -13.45 109.31 -13.73C105.1 -14 100.99 -14.86 97.58 -15.97C94.18 -17.09 91.49 -19.52 88.88 -20.44C86.26 -21.36 84.22 -21.16 81.89 -21.51C79.56 -21.87 77.1 -22.13 74.9 -22.59C72.71 -23.04 69.75 -23.97 68.72 -24.25" fill="none" stroke="#111" stroke-width="1.8" stroke-linejoin="round" stroke-linecap="round"/>
<path d="M68.72 -24.25C68.42 -24.55 67.27 -25 66.94 -26.05C66.61 -27.09 66.8 -28.53 66.73 -30.55C66.67 -32.57 66.74 -35.46 66.56 -38.18C66.38 -40.89 65.5 -43.85 65.65 -46.81C65.81 -49.77 66.05 -52.79 67.5 -55.92C68.95 -59.05 72.32 -63.08 74.35 -65.6C76.38 -68.11 77.39 -69.48 79.69 -71C81.98 -72.52 85.15 -73.73 88.13 -74.71C91.1 -75.7 94.33 -76.26 97.55 -76.91C100.77 -77.56 104.1 -78.12 107.47 -78.61C110.83 -79.09 113.98 -79.71 117.74 -79.82C121.5 -79.94 125.58 -79.6 130.04 -79.29C134.5 -78.99 139.85 -78.57 144.5 -78C149.16 -77.43 154.15 -76.38 157.98 -75.86C161.81 -75.34 164.59 -75.42 167.49 -74.9C170.39 -74.38 173.51 -73.49 175.39 -72.76C177.27 -72.03 178.09 -71.33 178.77 -70.52C179.44 -69.72 179.33 -68.35 179.44 -67.91" fill="none" stroke="#111" stroke-width="1.8" stroke-linejoin="round" stroke-linecap="round"/>
<path d="M179.44 -67.91C178.82 -67.58 177.78 -66.99 175.7 -65.91C173.62 -64.84 169.84 -62.94 166.93 -61.47C164.02 -59.99 160.9 -58.51 158.25 -57.08C155.59 -55.65 153.09 -54.22 151.02 -52.89C148.96 -51.56 147.25 -50.45 145.86 -49.11C144.47 -47.76 143.22 -46.17 142.7 -44.8C142.18 -43.42 142.48 -42.11 142.74 -40.86C143 -39.6 144.13 -38.62 144.26 -37.26C144.38 -35.91 144.23 -34.26 143.49 -32.73C142.75 -31.2 141.33 -29.57 139.84 -28.07C138.35 -26.56 136.89 -25.26 134.54 -23.71C132.19 -22.17 128.98 -20.02 125.74 -18.8C122.5 -17.59 118.66 -16.84 115.09 -16.42C111.52 -15.99 107.58 -16.08 104.34 -16.28C101.09 -16.48 98.18 -16.93 95.6 -17.62C93.02 -18.31 90.58 -19.11 88.88 -20.44C87.18 -21.78 86.83 -24.36 85.38 -25.63C83.94 -26.89 81.93 -27.87 80.21 -28.03C78.49 -28.19 76.45 -27.34 75.07 -26.59C73.68 -25.83 72.97 -23.88 71.91 -23.49C70.85 -23.1 69.25 -24.13 68.72 -24.25" fill="none" stroke="#111" stroke-width="1.8" stroke-linejoin="round" stroke-linecap="round"/></g></g>
<g transform="rotate(90 644.75 1127.3)"><g transform="matrix(0.2385 0.9711 -0.9711 0.2385 631.12 1365.15)"><path d="M41 -42L9 -42A9 9 0 0 0 0 -33L0 33A9 9 0 0 0 9 42L41 42" fill="#fff" stroke="#111" stroke-width="1.8"/>
<path d="M36.9 -25L40 -25L40 25L36.9 25Z" fill="none" stroke="#111" stroke-width="1.25"/>
<path d="M237 -78L237 68A10 10 0 0 1 227 78L55 78A15 15 0 0 1 40 63L40 -60L42.63 -68.68C43.48 -69.99 44.98 -74.81 47.7 -76.55C50.43 -78.29 54.08 -78.54 58.97 -79.12C63.86 -79.69 72.22 -79.8 77.06 -79.99C81.91 -80.17 83.29 -80.03 88.04 -80.23C92.8 -80.43 99.81 -80.93 105.58 -81.19C111.34 -81.45 117.12 -81.72 122.62 -81.79C128.13 -81.86 133.45 -81.8 138.62 -81.62C143.79 -81.45 148.82 -81.19 153.65 -80.75C158.49 -80.3 163.04 -79.59 167.62 -78.96C172.19 -78.33 176.66 -77.87 181.12 -76.96C185.57 -76.05 192.12 -74.08 194.32 -73.5Z" fill="#fff" stroke="none"/>
<path d="M237.04 -77.99C235.37 -78.58 230.44 -80.65 227.03 -81.5C223.61 -82.35 219.83 -83.2 216.54 -83.11C213.25 -83.02 210.28 -82.13 207.27 -80.95C204.26 -79.78 201.05 -77.81 198.47 -76.05C195.89 -74.28 194.39 -72.8 191.78 -70.37C189.17 -67.93 186.02 -64.84 182.81 -61.46C179.61 -58.08 176.15 -53.99 172.57 -50.07C168.99 -46.14 165.23 -41.76 161.32 -37.93C157.4 -34.11 153.24 -30.28 149.1 -27.11C144.96 -23.95 140.87 -21.07 136.49 -18.94C132.11 -16.81 127.35 -15.2 122.82 -14.33C118.29 -13.47 113.52 -13.45 109.31 -13.73C105.1 -14 100.99 -14.86 97.58 -15.97C94.18 -17.09 91.49 -19.52 88.88 -20.44C86.26 -21.36 84.22 -21.16 81.89 -21.51C79.56 -21.87 77.1 -22.13 74.9 -22.59C72.71 -23.04 69.75 -23.97 68.72 -24.25L68.72 -24.25C68.42 -24.55 67.27 -25 66.94 -26.05C66.61 -27.09 66.8 -28.53 66.73 -30.55C66.67 -32.57 66.74 -35.46 66.56 -38.18C66.38 -40.89 65.5 -43.85 65.65 -46.81C65.81 -49.77 66.05 -52.79 67.5 -55.92C68.95 -59.05 72.32 -63.08 74.35 -65.6C76.38 -68.11 77.39 -69.48 79.69 -71C81.98 -72.52 85.15 -73.73 88.13 -74.71C91.1 -75.7 94.33 -76.26 97.55 -76.91C100.77 -77.56 104.1 -78.12 107.47 -78.61C110.83 -79.09 113.98 -79.71 117.74 -79.82C121.5 -79.94 125.58 -79.6 130.04 -79.29C134.5 -78.99 139.85 -78.57 144.5 -78C149.16 -77.43 154.15 -76.38 157.98 -75.86C161.81 -75.34 164.59 -75.42 167.49 -74.9C170.39 -74.38 173.51 -73.49 175.39 -72.76C177.27 -72.03 178.09 -71.33 178.77 -70.52C179.44 -69.72 179.33 -68.35 179.44 -67.91Z" fill="#fff" stroke="none"/>
<path d="M237 -78L237 68A10 10 0 0 1 227 78L55 78A15 15 0 0 1 40 63L40 -60L42.63 -68.68C43.48 -69.99 44.98 -74.81 47.7 -76.55C50.43 -78.29 54.08 -78.54 58.97 -79.12C63.86 -79.69 72.22 -79.8 77.06 -79.99C81.91 -80.17 83.29 -80.03 88.04 -80.23C92.8 -80.43 99.81 -80.93 105.58 -81.19C111.34 -81.45 117.12 -81.72 122.62 -81.79C128.13 -81.86 133.45 -81.8 138.62 -81.62C143.79 -81.45 148.82 -81.19 153.65 -80.75C158.49 -80.3 163.04 -79.59 167.62 -78.96C172.19 -78.33 176.66 -77.87 181.12 -76.96C185.57 -76.05 192.12 -74.08 194.32 -73.5" fill="none" stroke="#111" stroke-width="1.8" stroke-linejoin="round"/>
<path d="M237.04 -77.99C235.37 -78.58 230.44 -80.65 227.03 -81.5C223.61 -82.35 219.83 -83.2 216.54 -83.11C213.25 -83.02 210.28 -82.13 207.27 -80.95C204.26 -79.78 201.05 -77.81 198.47 -76.05C195.89 -74.28 194.39 -72.8 191.78 -70.37C189.17 -67.93 186.02 -64.84 182.81 -61.46C179.61 -58.08 176.15 -53.99 172.57 -50.07C168.99 -46.14 165.23 -41.76 161.32 -37.93C157.4 -34.11 153.24 -30.28 149.1 -27.11C144.96 -23.95 140.87 -21.07 136.49 -18.94C132.11 -16.81 127.35 -15.2 122.82 -14.33C118.29 -13.47 113.52 -13.45 109.31 -13.73C105.1 -14 100.99 -14.86 97.58 -15.97C94.18 -17.09 91.49 -19.52 88.88 -20.44C86.26 -21.36 84.22 -21.16 81.89 -21.51C79.56 -21.87 77.1 -22.13 74.9 -22.59C72.71 -23.04 69.75 -23.97 68.72 -24.25" fill="none" stroke="#111" stroke-width="1.8" stroke-linejoin="round" stroke-linecap="round"/>
<path d="M68.72 -24.25C68.42 -24.55 67.27 -25 66.94 -26.05C66.61 -27.09 66.8 -28.53 66.73 -30.55C66.67 -32.57 66.74 -35.46 66.56 -38.18C66.38 -40.89 65.5 -43.85 65.65 -46.81C65.81 -49.77 66.05 -52.79 67.5 -55.92C68.95 -59.05 72.32 -63.08 74.35 -65.6C76.38 -68.11 77.39 -69.48 79.69 -71C81.98 -72.52 85.15 -73.73 88.13 -74.71C91.1 -75.7 94.33 -76.26 97.55 -76.91C100.77 -77.56 104.1 -78.12 107.47 -78.61C110.83 -79.09 113.98 -79.71 117.74 -79.82C121.5 -79.94 125.58 -79.6 130.04 -79.29C134.5 -78.99 139.85 -78.57 144.5 -78C149.16 -77.43 154.15 -76.38 157.98 -75.86C161.81 -75.34 164.59 -75.42 167.49 -74.9C170.39 -74.38 173.51 -73.49 175.39 -72.76C177.27 -72.03 178.09 -71.33 178.77 -70.52C179.44 -69.72 179.33 -68.35 179.44 -67.91" fill="none" stroke="#111" stroke-width="1.8" stroke-linejoin="round" stroke-linecap="round"/>
<path d="M179.44 -67.91C178.82 -67.58 177.78 -66.99 175.7 -65.91C173.62 -64.84 169.84 -62.94 166.93 -61.47C164.02 -59.99 160.9 -58.51 158.25 -57.08C155.59 -55.65 153.09 -54.22 151.02 -52.89C148.96 -51.56 147.25 -50.45 145.86 -49.11C144.47 -47.76 143.22 -46.17 142.7 -44.8C142.18 -43.42 142.48 -42.11 142.74 -40.86C143 -39.6 144.13 -38.62 144.26 -37.26C144.38 -35.91 144.23 -34.26 143.49 -32.73C142.75 -31.2 141.33 -29.57 139.84 -28.07C138.35 -26.56 136.89 -25.26 134.54 -23.71C132.19 -22.17 128.98 -20.02 125.74 -18.8C122.5 -17.59 118.66 -16.84 115.09 -16.42C111.52 -15.99 107.58 -16.08 104.34 -16.28C101.09 -16.48 98.18 -16.93 95.6 -17.62C93.02 -18.31 90.58 -19.11 88.88 -20.44C87.18 -21.78 86.83 -24.36 85.38 -25.63C83.94 -26.89 81.93 -27.87 80.21 -28.03C78.49 -28.19 76.45 -27.34 75.07 -26.59C73.68 -25.83 72.97 -23.88 71.91 -23.49C70.85 -23.1 69.25 -24.13 68.72 -24.25" fill="none" stroke="#111" stroke-width="1.8" stroke-linejoin="round" stroke-linecap="round"/></g></g>
<g transform="rotate(180 644.75 1127.3)"><g transform="matrix(0.2385 0.9711 -0.9711 0.2385 631.12 1365.15)"><path d="M41 -42L9 -42A9 9 0 0 0 0 -33L0 33A9 9 0 0 0 9 42L41 42" fill="#fff" stroke="#111" stroke-width="1.8"/>
<path d="M36.9 -25L40 -25L40 25L36.9 25Z" fill="none" stroke="#111" stroke-width="1.25"/>
<path d="M237 -78L237 68A10 10 0 0 1 227 78L55 78A15 15 0 0 1 40 63L40 -60L42.63 -68.68C43.48 -69.99 44.98 -74.81 47.7 -76.55C50.43 -78.29 54.08 -78.54 58.97 -79.12C63.86 -79.69 72.22 -79.8 77.06 -79.99C81.91 -80.17 83.29 -80.03 88.04 -80.23C92.8 -80.43 99.81 -80.93 105.58 -81.19C111.34 -81.45 117.12 -81.72 122.62 -81.79C128.13 -81.86 133.45 -81.8 138.62 -81.62C143.79 -81.45 148.82 -81.19 153.65 -80.75C158.49 -80.3 163.04 -79.59 167.62 -78.96C172.19 -78.33 176.66 -77.87 181.12 -76.96C185.57 -76.05 192.12 -74.08 194.32 -73.5Z" fill="#fff" stroke="none"/>
<path d="M237.04 -77.99C235.37 -78.58 230.44 -80.65 227.03 -81.5C223.61 -82.35 219.83 -83.2 216.54 -83.11C213.25 -83.02 210.28 -82.13 207.27 -80.95C204.26 -79.78 201.05 -77.81 198.47 -76.05C195.89 -74.28 194.39 -72.8 191.78 -70.37C189.17 -67.93 186.02 -64.84 182.81 -61.46C179.61 -58.08 176.15 -53.99 172.57 -50.07C168.99 -46.14 165.23 -41.76 161.32 -37.93C157.4 -34.11 153.24 -30.28 149.1 -27.11C144.96 -23.95 140.87 -21.07 136.49 -18.94C132.11 -16.81 127.35 -15.2 122.82 -14.33C118.29 -13.47 113.52 -13.45 109.31 -13.73C105.1 -14 100.99 -14.86 97.58 -15.97C94.18 -17.09 91.49 -19.52 88.88 -20.44C86.26 -21.36 84.22 -21.16 81.89 -21.51C79.56 -21.87 77.1 -22.13 74.9 -22.59C72.71 -23.04 69.75 -23.97 68.72 -24.25L68.72 -24.25C68.42 -24.55 67.27 -25 66.94 -26.05C66.61 -27.09 66.8 -28.53 66.73 -30.55C66.67 -32.57 66.74 -35.46 66.56 -38.18C66.38 -40.89 65.5 -43.85 65.65 -46.81C65.81 -49.77 66.05 -52.79 67.5 -55.92C68.95 -59.05 72.32 -63.08 74.35 -65.6C76.38 -68.11 77.39 -69.48 79.69 -71C81.98 -72.52 85.15 -73.73 88.13 -74.71C91.1 -75.7 94.33 -76.26 97.55 -76.91C100.77 -77.56 104.1 -78.12 107.47 -78.61C110.83 -79.09 113.98 -79.71 117.74 -79.82C121.5 -79.94 125.58 -79.6 130.04 -79.29C134.5 -78.99 139.85 -78.57 144.5 -78C149.16 -77.43 154.15 -76.38 157.98 -75.86C161.81 -75.34 164.59 -75.42 167.49 -74.9C170.39 -74.38 173.51 -73.49 175.39 -72.76C177.27 -72.03 178.09 -71.33 178.77 -70.52C179.44 -69.72 179.33 -68.35 179.44 -67.91Z" fill="#fff" stroke="none"/>
<path d="M237 -78L237 68A10 10 0 0 1 227 78L55 78A15 15 0 0 1 40 63L40 -60L42.63 -68.68C43.48 -69.99 44.98 -74.81 47.7 -76.55C50.43 -78.29 54.08 -78.54 58.97 -79.12C63.86 -79.69 72.22 -79.8 77.06 -79.99C81.91 -80.17 83.29 -80.03 88.04 -80.23C92.8 -80.43 99.81 -80.93 105.58 -81.19C111.34 -81.45 117.12 -81.72 122.62 -81.79C128.13 -81.86 133.45 -81.8 138.62 -81.62C143.79 -81.45 148.82 -81.19 153.65 -80.75C158.49 -80.3 163.04 -79.59 167.62 -78.96C172.19 -78.33 176.66 -77.87 181.12 -76.96C185.57 -76.05 192.12 -74.08 194.32 -73.5" fill="none" stroke="#111" stroke-width="1.8" stroke-linejoin="round"/>
<path d="M237.04 -77.99C235.37 -78.58 230.44 -80.65 227.03 -81.5C223.61 -82.35 219.83 -83.2 216.54 -83.11C213.25 -83.02 210.28 -82.13 207.27 -80.95C204.26 -79.78 201.05 -77.81 198.47 -76.05C195.89 -74.28 194.39 -72.8 191.78 -70.37C189.17 -67.93 186.02 -64.84 182.81 -61.46C179.61 -58.08 176.15 -53.99 172.57 -50.07C168.99 -46.14 165.23 -41.76 161.32 -37.93C157.4 -34.11 153.24 -30.28 149.1 -27.11C144.96 -23.95 140.87 -21.07 136.49 -18.94C132.11 -16.81 127.35 -15.2 122.82 -14.33C118.29 -13.47 113.52 -13.45 109.31 -13.73C105.1 -14 100.99 -14.86 97.58 -15.97C94.18 -17.09 91.49 -19.52 88.88 -20.44C86.26 -21.36 84.22 -21.16 81.89 -21.51C79.56 -21.87 77.1 -22.13 74.9 -22.59C72.71 -23.04 69.75 -23.97 68.72 -24.25" fill="none" stroke="#111" stroke-width="1.8" stroke-linejoin="round" stroke-linecap="round"/>
<path d="M68.72 -24.25C68.42 -24.55 67.27 -25 66.94 -26.05C66.61 -27.09 66.8 -28.53 66.73 -30.55C66.67 -32.57 66.74 -35.46 66.56 -38.18C66.38 -40.89 65.5 -43.85 65.65 -46.81C65.81 -49.77 66.05 -52.79 67.5 -55.92C68.95 -59.05 72.32 -63.08 74.35 -65.6C76.38 -68.11 77.39 -69.48 79.69 -71C81.98 -72.52 85.15 -73.73 88.13 -74.71C91.1 -75.7 94.33 -76.26 97.55 -76.91C100.77 -77.56 104.1 -78.12 107.47 -78.61C110.83 -79.09 113.98 -79.71 117.74 -79.82C121.5 -79.94 125.58 -79.6 130.04 -79.29C134.5 -78.99 139.85 -78.57 144.5 -78C149.16 -77.43 154.15 -76.38 157.98 -75.86C161.81 -75.34 164.59 -75.42 167.49 -74.9C170.39 -74.38 173.51 -73.49 175.39 -72.76C177.27 -72.03 178.09 -71.33 178.77 -70.52C179.44 -69.72 179.33 -68.35 179.44 -67.91" fill="none" stroke="#111" stroke-width="1.8" stroke-linejoin="round" stroke-linecap="round"/>
<path d="M179.44 -67.91C178.82 -67.58 177.78 -66.99 175.7 -65.91C173.62 -64.84 169.84 -62.94 166.93 -61.47C164.02 -59.99 160.9 -58.51 158.25 -57.08C155.59 -55.65 153.09 -54.22 151.02 -52.89C148.96 -51.56 147.25 -50.45 145.86 -49.11C144.47 -47.76 143.22 -46.17 142.7 -44.8C142.18 -43.42 142.48 -42.11 142.74 -40.86C143 -39.6 144.13 -38.62 144.26 -37.26C144.38 -35.91 144.23 -34.26 143.49 -32.73C142.75 -31.2 141.33 -29.57 139.84 -28.07C138.35 -26.56 136.89 -25.26 134.54 -23.71C132.19 -22.17 128.98 -20.02 125.74 -18.8C122.5 -17.59 118.66 -16.84 115.09 -16.42C111.52 -15.99 107.58 -16.08 104.34 -16.28C101.09 -16.48 98.18 -16.93 95.6 -17.62C93.02 -18.31 90.58 -19.11 88.88 -20.44C87.18 -21.78 86.83 -24.36 85.38 -25.63C83.94 -26.89 81.93 -27.87 80.21 -28.03C78.49 -28.19 76.45 -27.34 75.07 -26.59C73.68 -25.83 72.97 -23.88 71.91 -23.49C70.85 -23.1 69.25 -24.13 68.72 -24.25" fill="none" stroke="#111" stroke-width="1.8" stroke-linejoin="round" stroke-linecap="round"/></g></g>
<g transform="rotate(270 644.75 1127.3)"><g transform="matrix(0.2385 0.9711 -0.9711 0.2385 631.12 1365.15)"><path d="M41 -42L9 -42A9 9 0 0 0 0 -33L0 33A9 9 0 0 0 9 42L41 42" fill="#fff" stroke="#111" stroke-width="1.8"/>
<path d="M36.9 -25L40 -25L40 25L36.9 25Z" fill="none" stroke="#111" stroke-width="1.25"/>
<path d="M237 -78L237 68A10 10 0 0 1 227 78L55 78A15 15 0 0 1 40 63L40 -60L42.63 -68.68C43.48 -69.99 44.98 -74.81 47.7 -76.55C50.43 -78.29 54.08 -78.54 58.97 -79.12C63.86 -79.69 72.22 -79.8 77.06 -79.99C81.91 -80.17 83.29 -80.03 88.04 -80.23C92.8 -80.43 99.81 -80.93 105.58 -81.19C111.34 -81.45 117.12 -81.72 122.62 -81.79C128.13 -81.86 133.45 -81.8 138.62 -81.62C143.79 -81.45 148.82 -81.19 153.65 -80.75C158.49 -80.3 163.04 -79.59 167.62 -78.96C172.19 -78.33 176.66 -77.87 181.12 -76.96C185.57 -76.05 192.12 -74.08 194.32 -73.5Z" fill="#fff" stroke="none"/>
<path d="M237.04 -77.99C235.37 -78.58 230.44 -80.65 227.03 -81.5C223.61 -82.35 219.83 -83.2 216.54 -83.11C213.25 -83.02 210.28 -82.13 207.27 -80.95C204.26 -79.78 201.05 -77.81 198.47 -76.05C195.89 -74.28 194.39 -72.8 191.78 -70.37C189.17 -67.93 186.02 -64.84 182.81 -61.46C179.61 -58.08 176.15 -53.99 172.57 -50.07C168.99 -46.14 165.23 -41.76 161.32 -37.93C157.4 -34.11 153.24 -30.28 149.1 -27.11C144.96 -23.95 140.87 -21.07 136.49 -18.94C132.11 -16.81 127.35 -15.2 122.82 -14.33C118.29 -13.47 113.52 -13.45 109.31 -13.73C105.1 -14 100.99 -14.86 97.58 -15.97C94.18 -17.09 91.49 -19.52 88.88 -20.44C86.26 -21.36 84.22 -21.16 81.89 -21.51C79.56 -21.87 77.1 -22.13 74.9 -22.59C72.71 -23.04 69.75 -23.97 68.72 -24.25L68.72 -24.25C68.42 -24.55 67.27 -25 66.94 -26.05C66.61 -27.09 66.8 -28.53 66.73 -30.55C66.67 -32.57 66.74 -35.46 66.56 -38.18C66.38 -40.89 65.5 -43.85 65.65 -46.81C65.81 -49.77 66.05 -52.79 67.5 -55.92C68.95 -59.05 72.32 -63.08 74.35 -65.6C76.38 -68.11 77.39 -69.48 79.69 -71C81.98 -72.52 85.15 -73.73 88.13 -74.71C91.1 -75.7 94.33 -76.26 97.55 -76.91C100.77 -77.56 104.1 -78.12 107.47 -78.61C110.83 -79.09 113.98 -79.71 117.74 -79.82C121.5 -79.94 125.58 -79.6 130.04 -79.29C134.5 -78.99 139.85 -78.57 144.5 -78C149.16 -77.43 154.15 -76.38 157.98 -75.86C161.81 -75.34 164.59 -75.42 167.49 -74.9C170.39 -74.38 173.51 -73.49 175.39 -72.76C177.27 -72.03 178.09 -71.33 178.77 -70.52C179.44 -69.72 179.33 -68.35 179.44 -67.91Z" fill="#fff" stroke="none"/>
<path d="M237 -78L237 68A10 10 0 0 1 227 78L55 78A15 15 0 0 1 40 63L40 -60L42.63 -68.68C43.48 -69.99 44.98 -74.81 47.7 -76.55C50.43 -78.29 54.08 -78.54 58.97 -79.12C63.86 -79.69 72.22 -79.8 77.06 -79.99C81.91 -80.17 83.29 -80.03 88.04 -80.23C92.8 -80.43 99.81 -80.93 105.58 -81.19C111.34 -81.45 117.12 -81.72 122.62 -81.79C128.13 -81.86 133.45 -81.8 138.62 -81.62C143.79 -81.45 148.82 -81.19 153.65 -80.75C158.49 -80.3 163.04 -79.59 167.62 -78.96C172.19 -78.33 176.66 -77.87 181.12 -76.96C185.57 -76.05 192.12 -74.08 194.32 -73.5" fill="none" stroke="#111" stroke-width="1.8" stroke-linejoin="round"/>
<path d="M237.04 -77.99C235.37 -78.58 230.44 -80.65 227.03 -81.5C223.61 -82.35 219.83 -83.2 216.54 -83.11C213.25 -83.02 210.28 -82.13 207.27 -80.95C204.26 -79.78 201.05 -77.81 198.47 -76.05C195.89 -74.28 194.39 -72.8 191.78 -70.37C189.17 -67.93 186.02 -64.84 182.81 -61.46C179.61 -58.08 176.15 -53.99 172.57 -50.07C168.99 -46.14 165.23 -41.76 161.32 -37.93C157.4 -34.11 153.24 -30.28 149.1 -27.11C144.96 -23.95 140.87 -21.07 136.49 -18.94C132.11 -16.81 127.35 -15.2 122.82 -14.33C118.29 -13.47 113.52 -13.45 109.31 -13.73C105.1 -14 100.99 -14.86 97.58 -15.97C94.18 -17.09 91.49 -19.52 88.88 -20.44C86.26 -21.36 84.22 -21.16 81.89 -21.51C79.56 -21.87 77.1 -22.13 74.9 -22.59C72.71 -23.04 69.75 -23.97 68.72 -24.25" fill="none" stroke="#111" stroke-width="1.8" stroke-linejoin="round" stroke-linecap="round"/>
<path d="M68.72 -24.25C68.42 -24.55 67.27 -25 66.94 -26.05C66.61 -27.09 66.8 -28.53 66.73 -30.55C66.67 -32.57 66.74 -35.46 66.56 -38.18C66.38 -40.89 65.5 -43.85 65.65 -46.81C65.81 -49.77 66.05 -52.79 67.5 -55.92C68.95 -59.05 72.32 -63.08 74.35 -65.6C76.38 -68.11 77.39 -69.48 79.69 -71C81.98 -72.52 85.15 -73.73 88.13 -74.71C91.1 -75.7 94.33 -76.26 97.55 -76.91C100.77 -77.56 104.1 -78.12 107.47 -78.61C110.83 -79.09 113.98 -79.71 117.74 -79.82C121.5 -79.94 125.58 -79.6 130.04 -79.29C134.5 -78.99 139.85 -78.57 144.5 -78C149.16 -77.43 154.15 -76.38 157.98 -75.86C161.81 -75.34 164.59 -75.42 167.49 -74.9C170.39 -74.38 173.51 -73.49 175.39 -72.76C177.27 -72.03 178.09 -71.33 178.77 -70.52C179.44 -69.72 179.33 -68.35 179.44 -67.91" fill="none" stroke="#111" stroke-width="1.8" stroke-linejoin="round" stroke-linecap="round"/>
<path d="M179.44 -67.91C178.82 -67.58 177.78 -66.99 175.7 -65.91C173.62 -64.84 169.84 -62.94 166.93 -61.47C164.02 -59.99 160.9 -58.51 158.25 -57.08C155.59 -55.65 153.09 -54.22 151.02 -52.89C148.96 -51.56 147.25 -50.45 145.86 -49.11C144.47 -47.76 143.22 -46.17 142.7 -44.8C142.18 -43.42 142.48 -42.11 142.74 -40.86C143 -39.6 144.13 -38.62 144.26 -37.26C144.38 -35.91 144.23 -34.26 143.49 -32.73C142.75 -31.2 141.33 -29.57 139.84 -28.07C138.35 -26.56 136.89 -25.26 134.54 -23.71C132.19 -22.17 128.98 -20.02 125.74 -18.8C122.5 -17.59 118.66 -16.84 115.09 -16.42C111.52 -15.99 107.58 -16.08 104.34 -16.28C101.09 -16.48 98.18 -16.93 95.6 -17.62C93.02 -18.31 90.58 -19.11 88.88 -20.44C87.18 -21.78 86.83 -24.36 85.38 -25.63C83.94 -26.89 81.93 -27.87 80.21 -28.03C78.49 -28.19 76.45 -27.34 75.07 -26.59C73.68 -25.83 72.97 -23.88 71.91 -23.49C70.85 -23.1 69.25 -24.13 68.72 -24.25" fill="none" stroke="#111" stroke-width="1.8" stroke-linejoin="round" stroke-linecap="round"/></g></g>
<path d="M513.75 51L741.2 51L741.2 85.5A6 6 0 0 1 735.2 91.5L519.75 91.5A6 6 0 0 1 513.75 85.5Z" fill="#fff" stroke="#111" stroke-width="1.85" />
<path d="M616.2 92.3A13.2 13.2 0 1 0 641 92.3" fill="none" stroke="#111" stroke-width="1.35"/>
<path d="M360.8 193.4L528.5 114.1Q540.3 108.5 552 108.5L566 108.5Q571 108.5 577 110L970.2 207L966.8 224.2L571.5 126Q565.6 124.5 560 124.5L554 124.5Q545 124.5 534.5 129.5L367.3 208.4Z" fill="#fff" stroke="none" stroke-width="0" />
<path d="M360.8 193.4L528.5 114.1Q540.3 108.5 552 108.5L566 108.5Q571 108.5 577 110L970.2 207" fill="none" stroke="#111" stroke-width="1.65" />
<path d="M363.8 200.5L531 121.6Q542 116.4 552 116.4L563 116.4Q569.4 116.4 575.5 117.9L968.6 215.2" fill="none" stroke="#111" stroke-width="1.65" />
<path d="M367.3 208.4L534.5 129.5Q545 124.5 554 124.5L560 124.5Q565.6 124.5 571.5 126L966.8 224.2" fill="none" stroke="#111" stroke-width="1.65" />
<path d="M559.4 108.5L559.4 124.5" fill="none" stroke="#111" stroke-width="1.5" />
<path d="M547.5 91.5L572.25 91.5L572.25 108.6L547.5 108.6Z" fill="#111" stroke="none" stroke-width="0" />
<path d="M553.3 93.8L565.8 93.8L565.8 106L553.3 106Z" fill="#fff" stroke="none" stroke-width="0" />
<path d="M1019.48 185.06L987.55 176.55Q979.41 176.3 977.54 182.56L961.26 246.41Q959.38 253.92 966.27 255.8L997.57 263.94" fill="#fff" stroke="#111" stroke-width="1.85" />
<path d="M992.7 285L1025.6 163.7Q1029.2 152 1041 152.5Q1044 152.6 1046.2 153.8L1206.1 196.8Q1218.3 200.6 1216.2 212L1178.7 349.9L1178.12 350C1175.94 350.1 1168.65 350.83 1165 350.62C1161.35 350.42 1159.17 349.9 1156.25 348.75C1153.33 347.6 1150.42 345.83 1147.5 343.75C1144.58 341.67 1141.67 339.38 1138.75 336.25C1135.83 333.12 1132.71 328.96 1130 325C1127.29 321.04 1124.79 316.67 1122.5 312.5C1120.21 308.33 1118.33 303.96 1116.25 300C1114.17 296.04 1112.29 292.4 1110 288.75C1107.71 285.1 1105.21 281.35 1102.5 278.12C1099.79 274.9 1096.67 271.98 1093.75 269.38C1090.83 266.77 1088.12 264.48 1085 262.5C1081.88 260.52 1078.33 258.75 1075 257.5C1071.67 256.25 1068.12 255.42 1065 255C1061.88 254.58 1057.71 255 1056.25 255L1005 240Z" fill="#fff" stroke="none" stroke-width="0" />
<path d="M992.7 285L1025.6 163.7Q1029.2 152 1041 152.5Q1044 152.6 1046.2 153.8L1206.1 196.8Q1218.3 200.6 1216.2 212L1178.7 349.9" fill="none" stroke="#111" stroke-width="1.85" />
<path d="M992.7 285Q990.5 296 1000 302.5Q1003 304.5 1005 305L1005 305C1010 306.53 1025 311.15 1035 314.2C1045 317.25 1055.55 320.67 1065 323.3C1074.45 325.93 1083.37 328.18 1091.7 330C1100.03 331.82 1107.37 333.27 1115 334.2C1122.63 335.13 1133.75 335.37 1137.5 335.6" fill="none" stroke="#111" stroke-width="1.85" />
<path d="M1178.12 350C1175.94 350.1 1168.65 350.83 1165 350.62C1161.35 350.42 1159.17 349.9 1156.25 348.75C1153.33 347.6 1150.42 345.83 1147.5 343.75C1144.58 341.67 1141.67 339.38 1138.75 336.25C1135.83 333.12 1132.71 328.96 1130 325C1127.29 321.04 1124.79 316.67 1122.5 312.5C1120.21 308.33 1118.33 303.96 1116.25 300C1114.17 296.04 1112.29 292.4 1110 288.75C1107.71 285.1 1105.21 281.35 1102.5 278.12C1099.79 274.9 1096.67 271.98 1093.75 269.38C1090.83 266.77 1088.12 264.48 1085 262.5C1081.88 260.52 1078.33 258.75 1075 257.5C1071.67 256.25 1068.12 255.42 1065 255C1061.88 254.58 1057.71 255 1056.25 255" fill="none" stroke="#111" stroke-width="1.85" />
<path d="M1056.25 255.62C1058.12 255.73 1063.96 255.52 1067.5 256.25C1071.04 256.98 1074.38 258.33 1077.5 260C1080.62 261.67 1083.54 263.96 1086.25 266.25C1088.96 268.54 1091.67 271.25 1093.75 273.75C1095.83 276.25 1097.71 279.17 1098.75 281.25C1099.79 283.33 1100.31 284.79 1100 286.25C1099.69 287.71 1097.6 288.54 1096.88 290C1096.15 291.46 1095.31 293.12 1095.62 295C1095.94 296.88 1097.19 299.17 1098.75 301.25C1100.31 303.33 1102.71 305.21 1105 307.5C1107.29 309.79 1110 312.6 1112.5 315C1115 317.4 1117.81 320 1120 321.88C1122.19 323.75 1125 325.1 1125.62 326.25C1126.25 327.4 1125.1 328.12 1123.75 328.75C1122.4 329.38 1120.21 329.9 1117.5 330C1114.79 330.1 1111.04 329.69 1107.5 329.38C1103.96 329.06 1100.21 328.65 1096.25 328.12C1092.29 327.6 1087.92 326.98 1083.75 326.25C1079.58 325.52 1075.42 324.79 1071.25 323.75C1067.08 322.71 1062.92 321.35 1058.75 320C1054.58 318.65 1047.43 316.18 1046.25 315.62C1045.07 315.07 1053.26 317.88 1051.67 316.67C1050.07 315.45 1040.83 311.67 1036.67 308.33C1032.5 305 1028.94 300.83 1026.67 296.67C1024.39 292.5 1023.42 287.78 1023 283.33C1022.58 278.89 1023.42 274.03 1024.17 270C1024.92 265.97 1026.94 260.97 1027.5 259.17" fill="none" stroke="#111" stroke-width="1.85" />
<path d="M1065 218.12C1067.08 217.92 1073.33 217.29 1077.5 216.88C1081.67 216.46 1086.25 215.83 1090 215.62C1093.75 215.42 1096.67 215.21 1100 215.62C1103.33 216.04 1106.67 216.77 1110 218.12C1113.33 219.48 1117.08 221.35 1120 223.75C1122.92 226.15 1125.52 229.38 1127.5 232.5C1129.48 235.62 1131.04 239.17 1131.88 242.5C1132.71 245.83 1132.92 248.96 1132.5 252.5C1132.08 256.04 1131.04 260.21 1129.38 263.75C1127.71 267.29 1125.1 271.04 1122.5 273.75C1119.9 276.46 1116.67 278.44 1113.75 280C1110.83 281.56 1107.92 282.6 1105 283.12C1102.08 283.65 1099.17 283.54 1096.25 283.12C1093.33 282.71 1090.42 281.77 1087.5 280.62C1084.58 279.48 1081.46 277.81 1078.75 276.25C1076.04 274.69 1073.75 273.23 1071.25 271.25C1068.75 269.27 1066.25 266.56 1063.75 264.38C1061.25 262.19 1058.12 259.58 1056.25 258.12C1054.38 256.67 1053.12 256.04 1052.5 255.62" fill="none" stroke="#111" stroke-width="1.85" />
<path d="M1077.5 242.5L1097.5 237.5L1101.25 242.5L1108.75 246.88L1102.5 251.88L1106.25 257.5L1098.75 255.62L1091.88 260L1077.5 245.62" fill="none" stroke="#777" stroke-width="0.8" />
<path d="M1077.5 243.75L1087.5 246.88L1108.75 246.88M1087.5 247.5L1106.25 257.5M1087.5 246.5L1097.5 237.5" fill="none" stroke="#777" stroke-width="0.8" />
<path d="M1060.62 235.62L1075.62 239.38L1077.5 242.5L1077.5 245.62L1073.12 248.12L1058.75 244.38" fill="none" stroke="#777" stroke-width="0.9" />
<path d="M1075.62 239.38L1073.12 248.12" fill="none" stroke="#777" stroke-width="0.9" />
<path d="M1044.52 262.31L1050.78 256.8" fill="none" stroke="#111" stroke-width="1.85" />
<path d="M1001.95 201.34C1000.39 200.92 995.59 199.36 992.56 198.84C989.53 198.31 986.51 198 983.8 198.21C981.08 198.42 978.41 198.9 976.28 200.09C974.16 201.28 971.9 204.47 971.03 205.35M991.31 242.03C989.85 241.51 985.26 240.26 982.54 238.9C979.83 237.54 977.22 235.98 975.03 233.89C972.84 231.81 970.8 228.22 969.4 226.38C968 224.54 967.1 223.46 966.64 222.87" fill="none" stroke="#111" stroke-width="1.85" />
<g transform="matrix(0.9707 0.2402 -0.2402 0.9707 968.5 215)"><path d="M51.5 -36L57.5 -36L57.5 37L51.5 37Z" fill="#fff" stroke="#111" stroke-width="1.5" />
<path d="M57.5 -25.8L69.8 -25.8L69.8 -20L57.5 -20Z" fill="#141414" stroke="none" stroke-width="0" />
<path d="M60 -23.6L67.5 -23.6" fill="none" stroke="#ddd" stroke-width="0.8" />
<path d="M57.5 26.3L68.5 26.3L68.5 20L57.5 20Z" fill="#141414" stroke="none" stroke-width="0" />
<path d="M59 24L67 24" fill="none" stroke="#ddd" stroke-width="0.8" />
<path d="M28.5 -21L94.3 -21L94.3 20.3L28.5 20.3Z" fill="#141414" stroke="#111" stroke-width="1.2" />
<path d="M30.7 -20.4L30.7 19.7M33.05 -20.4L33.05 19.7M35.4 -20.4L35.4 19.7M37.75 -20.4L37.75 19.7M40.1 -20.4L40.1 19.7M42.45 -20.4L42.45 19.7M44.8 -20.4L44.8 19.7M47.15 -20.4L47.15 19.7M49.5 -20.4L49.5 19.7M51.85 -20.4L51.85 19.7M54.2 -20.4L54.2 19.7M56.55 -20.4L56.55 19.7M58.9 -20.4L58.9 19.7M61.25 -20.4L61.25 19.7M63.6 -20.4L63.6 19.7M65.95 -20.4L65.95 19.7M68.3 -20.4L68.3 19.7M70.65 -20.4L70.65 19.7M73 -20.4L73 19.7M75.35 -20.4L75.35 19.7M77.7 -20.4L77.7 19.7M80.05 -20.4L80.05 19.7M82.4 -20.4L82.4 19.7M84.75 -20.4L84.75 19.7M87.1 -20.4L87.1 19.7M89.45 -20.4L89.45 19.7M91.8 -20.4L91.8 19.7" fill="none" stroke="#505050" stroke-width="0.55" />
<path d="M27.7 -4.8L78 -4.8A3 3 0 0 1 81 -1.8L81 3.8A3 3 0 0 1 78 6.8L27.7 6.8Z" fill="#fff" stroke="none" stroke-width="0" />
<path d="M41.5 -4.8L43 -4.8L43 6.8L41.5 6.8Z" fill="#141414" stroke="none" stroke-width="0" />
<path d="M51 -4.8L52.6 -4.8L52.6 6.8L51 6.8Z" fill="#141414" stroke="none" stroke-width="0" />
<path d="M55.7 -4.8L57.6 -4.8L57.6 6.8L55.7 6.8Z" fill="#141414" stroke="none" stroke-width="0" />
<path d="M57.6 0.2L69.5 0.2L69.5 2.9L57.6 2.9Z" fill="#141414" stroke="none" stroke-width="0" />
<path d="M69 -4.8L70.9 -4.8L70.9 6.8L69 6.8Z" fill="#141414" stroke="none" stroke-width="0" />
<path d="M2 -7.3L14 -7.3A3 3 0 0 1 17 -4.3L17 4A3 3 0 0 1 14 7L2 7L2 -7.3Z" fill="#fff" stroke="#111" stroke-width="2.6" stroke-linejoin="round"/>
<path d="M8.5 -5L8.5 5M10.5 -5L10.5 5" fill="none" stroke="#111" stroke-width="0.9" />
<path d="M-0.6 -9.3L-0.6 9.3L1.2 9.3L1.2 -9.3Z" fill="#fff" stroke="#111" stroke-width="0.9" /></g>
<path d="M306.9 183.1L336.25 169.4Q342 167 345.5 173L376.25 230Q379.5 236.5 373.1 240L346.25 255" fill="#fff" stroke="#111" stroke-width="1.85" />
<path d="M185.6 379.4L119.4 250Q114.5 240.5 125 236.25L278.75 156.25Q290.5 151 297.5 167.5L351.25 270Q357.5 281.5 355 287.5Q353 292 350 295L350 295C347.08 296.88 338.54 302.5 332.5 306.25C326.46 310 320 313.96 313.75 317.5C307.5 321.04 301.25 324.38 295 327.5C288.75 330.62 282.5 333.54 276.25 336.25C270 338.96 263.75 341.46 257.5 343.75C251.25 346.04 244.67 347.99 238.75 350C232.83 352.01 224.79 354.83 222 355.8Z" fill="#fff" stroke="none" stroke-width="0" />
<path d="M185.62 379.38C187.19 379.17 191.77 379.06 195 378.12C198.23 377.19 201.88 375.73 205 373.75C208.12 371.77 211.25 368.96 213.75 366.25C216.25 363.54 218.23 360.83 220 357.5C221.77 354.17 223.12 350.21 224.38 346.25C225.62 342.29 226.46 337.92 227.5 333.75C228.54 329.58 229.58 325.21 230.62 321.25C231.67 317.29 232.6 313.54 233.75 310C234.9 306.46 236.04 303.33 237.5 300C238.96 296.67 240.62 293.33 242.5 290C244.38 286.67 246.46 282.92 248.75 280C251.04 277.08 253.33 274.58 256.25 272.5C259.17 270.42 262.92 269.06 266.25 267.5C269.58 265.94 272.71 264.17 276.25 263.12C279.79 262.08 285.62 261.56 287.5 261.25L300 200Z" fill="#fff" stroke="none" stroke-width="0" />
<path d="M185.6 379.4L119.4 250Q114.5 240.5 125 236.25L278.75 156.25Q290.5 151 297.5 167.5L351.25 270Q357.5 281.5 355 287.5Q353 292 350 295L350 295C347.08 296.88 338.54 302.5 332.5 306.25C326.46 310 320 313.96 313.75 317.5C307.5 321.04 301.25 324.38 295 327.5C288.75 330.62 282.5 333.54 276.25 336.25C270 338.96 263.75 341.46 257.5 343.75C251.25 346.04 244.67 347.99 238.75 350C232.83 352.01 224.79 354.83 222 355.8" fill="none" stroke="#111" stroke-width="1.85" />
<path d="M185.62 379.38C187.19 379.17 191.77 379.06 195 378.12C198.23 377.19 201.88 375.73 205 373.75C208.12 371.77 211.25 368.96 213.75 366.25C216.25 363.54 218.23 360.83 220 357.5C221.77 354.17 223.12 350.21 224.38 346.25C225.62 342.29 226.46 337.92 227.5 333.75C228.54 329.58 229.58 325.21 230.62 321.25C231.67 317.29 232.6 313.54 233.75 310C234.9 306.46 236.04 303.33 237.5 300C238.96 296.67 240.62 293.33 242.5 290C244.38 286.67 246.46 282.92 248.75 280C251.04 277.08 253.33 274.58 256.25 272.5C259.17 270.42 262.92 269.06 266.25 267.5C269.58 265.94 272.71 264.17 276.25 263.12C279.79 262.08 285.62 261.56 287.5 261.25" fill="none" stroke="#111" stroke-width="1.85" />
<path d="M315 254.38C315.62 255.73 317.29 259.27 318.75 262.5C320.21 265.73 322.5 270 323.75 273.75C325 277.5 326.25 281.25 326.25 285C326.25 288.75 325.21 292.71 323.75 296.25C322.29 299.79 320.21 303.12 317.5 306.25C314.79 309.38 311.25 312.08 307.5 315C303.75 317.92 299.58 321.04 295 323.75C290.42 326.46 285.21 328.75 280 331.25C274.79 333.75 268.96 336.67 263.75 338.75C258.54 340.83 252.92 342.6 248.75 343.75C244.58 344.9 241.46 345.52 238.75 345.62C236.04 345.73 233.54 345.1 232.5 344.38C231.46 343.65 231.67 342.81 232.5 341.25C233.33 339.69 235.62 337.5 237.5 335C239.38 332.5 241.67 329.17 243.75 326.25C245.83 323.33 248.23 320.21 250 317.5C251.77 314.79 253.44 312.08 254.38 310C255.31 307.92 256.15 306.46 255.62 305C255.1 303.54 252.35 302.71 251.25 301.25C250.15 299.79 249.21 298.54 249 296.25C248.79 293.96 249.1 290.42 250 287.5C250.9 284.58 252.5 281.46 254.38 278.75C256.25 276.04 258.65 273.33 261.25 271.25C263.85 269.17 267.08 267.6 270 266.25C272.92 264.9 275.83 263.85 278.75 263.12C281.67 262.4 286.04 262.08 287.5 261.88" fill="none" stroke="#111" stroke-width="1.85" />
<path d="M270.62 225C269.27 225.31 265.94 226.35 262.5 226.88C259.06 227.4 251.46 228.02 250 228.12C248.54 228.23 255 227.29 253.75 227.5C252.5 227.71 246.46 228.44 242.5 229.38C238.54 230.31 233.75 231.35 230 233.12C226.25 234.9 222.92 237.19 220 240C217.08 242.81 214.23 246.46 212.5 250C210.77 253.54 209.94 257.5 209.62 261.25C209.31 265 209.73 268.96 210.62 272.5C211.52 276.04 213.02 279.58 215 282.5C216.98 285.42 219.79 287.92 222.5 290C225.21 292.08 228.12 293.85 231.25 295C234.38 296.15 237.92 296.67 241.25 296.88C244.58 297.08 248.54 296.77 251.25 296.25C253.96 295.73 255 295 257.5 293.75C260 292.5 263.33 290.83 266.25 288.75C269.17 286.67 272.29 284.17 275 281.25C277.71 278.33 280.31 274.27 282.5 271.25C284.69 268.23 287.19 264.48 288.12 263.12" fill="none" stroke="#111" stroke-width="1.85" />
<path d="M263.12 250.62L240.62 251.88L238.75 256.88L231.88 263.12L238.12 266.25L236.88 273.12L244.38 270.62L251.25 271.88L265 255.62" fill="none" stroke="#777" stroke-width="0.8" />
<path d="M263.75 253.12L252.5 259.38L231.88 263.12M252.5 259.38L236.88 273.12M252.5 259.38L240.62 251.88" fill="none" stroke="#777" stroke-width="0.8" />
<path d="M280 242.5L263.12 250.62L265.62 256.25L282.5 248.75" fill="none" stroke="#777" stroke-width="0.9" />
<path d="M263.12 250.62L265.62 256.25" fill="none" stroke="#777" stroke-width="0.9" />
<path d="M290 259.75L299 264.5" fill="none" stroke="#111" stroke-width="1.85" />
<path d="M328.12 195.62C329.69 194.79 334.27 191.56 337.5 190.62C340.73 189.69 344.38 189.58 347.5 190C350.62 190.42 354.17 192.25 356.25 193.12C358.33 194 359.38 194.9 360 195.25M346.88 231.25C348.44 230.42 353.65 228.12 356.25 226.25C358.85 224.38 360.83 222.29 362.5 220C364.17 217.71 365.48 214.33 366.25 212.5C367.02 210.67 366.98 209.58 367.12 209" fill="none" stroke="#111" stroke-width="1.85" />
<g transform="matrix(-0.8988 0.4384 0.4384 0.8988 362.8 201.9)"><path d="M51.5 -36L57.5 -36L57.5 37L51.5 37Z" fill="#fff" stroke="#111" stroke-width="1.5" />
<path d="M57.5 -25.8L69.8 -25.8L69.8 -20L57.5 -20Z" fill="#141414" stroke="none" stroke-width="0" />
<path d="M60 -23.6L67.5 -23.6" fill="none" stroke="#ddd" stroke-width="0.8" />
<path d="M57.5 26.3L68.5 26.3L68.5 20L57.5 20Z" fill="#141414" stroke="none" stroke-width="0" />
<path d="M59 24L67 24" fill="none" stroke="#ddd" stroke-width="0.8" />
<path d="M28.5 -21L93.5 -21L93.5 20.3L28.5 20.3Z" fill="#141414" stroke="#111" stroke-width="1.2" />
<path d="M30.7 -20.4L30.7 19.7M33.05 -20.4L33.05 19.7M35.4 -20.4L35.4 19.7M37.75 -20.4L37.75 19.7M40.1 -20.4L40.1 19.7M42.45 -20.4L42.45 19.7M44.8 -20.4L44.8 19.7M47.15 -20.4L47.15 19.7M49.5 -20.4L49.5 19.7M51.85 -20.4L51.85 19.7M54.2 -20.4L54.2 19.7M56.55 -20.4L56.55 19.7M58.9 -20.4L58.9 19.7M61.25 -20.4L61.25 19.7M63.6 -20.4L63.6 19.7M65.95 -20.4L65.95 19.7M68.3 -20.4L68.3 19.7M70.65 -20.4L70.65 19.7M73 -20.4L73 19.7M75.35 -20.4L75.35 19.7M77.7 -20.4L77.7 19.7M80.05 -20.4L80.05 19.7M82.4 -20.4L82.4 19.7M84.75 -20.4L84.75 19.7M87.1 -20.4L87.1 19.7M89.45 -20.4L89.45 19.7M91.8 -20.4L91.8 19.7" fill="none" stroke="#505050" stroke-width="0.55" />
<path d="M27.7 -4.8L78 -4.8A3 3 0 0 1 81 -1.8L81 3.8A3 3 0 0 1 78 6.8L27.7 6.8Z" fill="#fff" stroke="none" stroke-width="0" />
<path d="M41.5 -4.8L43 -4.8L43 6.8L41.5 6.8Z" fill="#141414" stroke="none" stroke-width="0" />
<path d="M51 -4.8L52.6 -4.8L52.6 6.8L51 6.8Z" fill="#141414" stroke="none" stroke-width="0" />
<path d="M55.7 -4.8L57.6 -4.8L57.6 6.8L55.7 6.8Z" fill="#141414" stroke="none" stroke-width="0" />
<path d="M57.6 0.2L69.5 0.2L69.5 2.9L57.6 2.9Z" fill="#141414" stroke="none" stroke-width="0" />
<path d="M69 -4.8L70.9 -4.8L70.9 6.8L69 6.8Z" fill="#141414" stroke="none" stroke-width="0" />
<path d="M2 -7.3L14 -7.3A3 3 0 0 1 17 -4.3L17 4A3 3 0 0 1 14 7L2 7L2 -7.3Z" fill="#fff" stroke="#111" stroke-width="2.6" stroke-linejoin="round"/>
<path d="M8.5 -5L8.5 5M10.5 -5L10.5 5" fill="none" stroke="#111" stroke-width="0.9" />
<path d="M-0.6 -9.3L-0.6 9.3L1.2 9.3L1.2 -9.3Z" fill="#fff" stroke="#111" stroke-width="0.9" /></g>
<path d="M135.9 566.8L1172.5 566.8" stroke="#111" stroke-width="2.5" fill="none"/>
<path d="M135.9 563.5L135.9 594.5" stroke="#111" stroke-width="2.0" fill="none"/>
<path d="M1172.5 563.5L1172.5 598" stroke="#111" stroke-width="2.0" fill="none"/>
<text transform="translate(668 563.2) rotate(0) scale(0.875 1)" font-size="61" text-anchor="middle" stroke="#000" stroke-width="1.6" stroke-linejoin="round">630</text>
<path d="M42.6 599.6L42.6 1645" stroke="#111" stroke-width="2.5" fill="none"/>
<path d="M39.5 599.6L91.7 599.6" stroke="#111" stroke-width="2.0" fill="none"/>
<path d="M39.5 1645L97.8 1645" stroke="#111" stroke-width="2.0" fill="none"/>
<text transform="translate(38.6 1102.5) rotate(-90) scale(0.905 1)" font-size="54.5" text-anchor="middle" stroke="#000" stroke-width="1.4" stroke-linejoin="round">630</text>
<path d="M70.5 70.5L70.5 380.5" stroke="#111" stroke-width="2.0" fill="none"/>
<path d="M68 70.5L130 70.5" stroke="#111" stroke-width="2.0" fill="none"/>
<path d="M68 380.5L91 380.5" stroke="#111" stroke-width="2.0" fill="none"/>
<text transform="translate(68 220) rotate(-90) scale(0.9 1)" font-size="46" text-anchor="middle" stroke="#000" stroke-width="1.0" stroke-linejoin="round">250</text>
<path d="M514.9 31.25L742.8 31.25" stroke="#111" stroke-width="2.0" fill="none"/>
<path d="M514.9 28.5L514.9 43" stroke="#111" stroke-width="2.0" fill="none"/>
<path d="M742.8 28.4L742.8 43.75" stroke="#111" stroke-width="2.0" fill="none"/>
<text transform="translate(635.3 27.8) rotate(0) scale(0.95 1)" font-size="38.5" text-anchor="middle" stroke="#000" stroke-width="0.7" stroke-linejoin="round">ø140</text>
<path d="M765.1 51.7L765.1 87.7" stroke="#111" stroke-width="1.6" fill="none"/>
<path d="M750 51.7L770.4 51.7" stroke="#111" stroke-width="1.6" fill="none"/>
<path d="M756 87.7L768 87.7" stroke="#111" stroke-width="1.6" fill="none"/>
<text transform="translate(763.2 69.5) rotate(-90) scale(1.17 1)" font-size="21.3" text-anchor="middle" stroke="#000" stroke-width="0.4" stroke-linejoin="round">25</text>
<path d="M1244.4 211.3L1205.4 364.4" stroke="#111" stroke-width="1.7" fill="none"/>
<path d="M1234.3 208.4L1245.8 212" stroke="#111" stroke-width="1.7" fill="none"/>
<path d="M1189.5 360.8L1206.8 365.1" stroke="#111" stroke-width="1.7" fill="none"/>
<text transform="translate(1222.6 281.8) rotate(-75.2) scale(0.92 1)" font-size="31.5" text-anchor="middle" stroke="#000" stroke-width="0.6" stroke-linejoin="round">100</text>
<path d="M978.75 335.5L1168.6 384.6" stroke="#111" stroke-width="1.7" fill="none"/>
<path d="M981.9 321.9L978.4 337" stroke="#111" stroke-width="1.7" fill="none"/>
<path d="M1175 363L1168.2 387" stroke="#111" stroke-width="1.7" fill="none"/>
<text transform="translate(1081.5 357.5) rotate(14.5) scale(0.85 1)" font-size="37" text-anchor="middle" stroke="#000" stroke-width="0.5" stroke-linejoin="round">120</text>
</svg>
</body></html>
